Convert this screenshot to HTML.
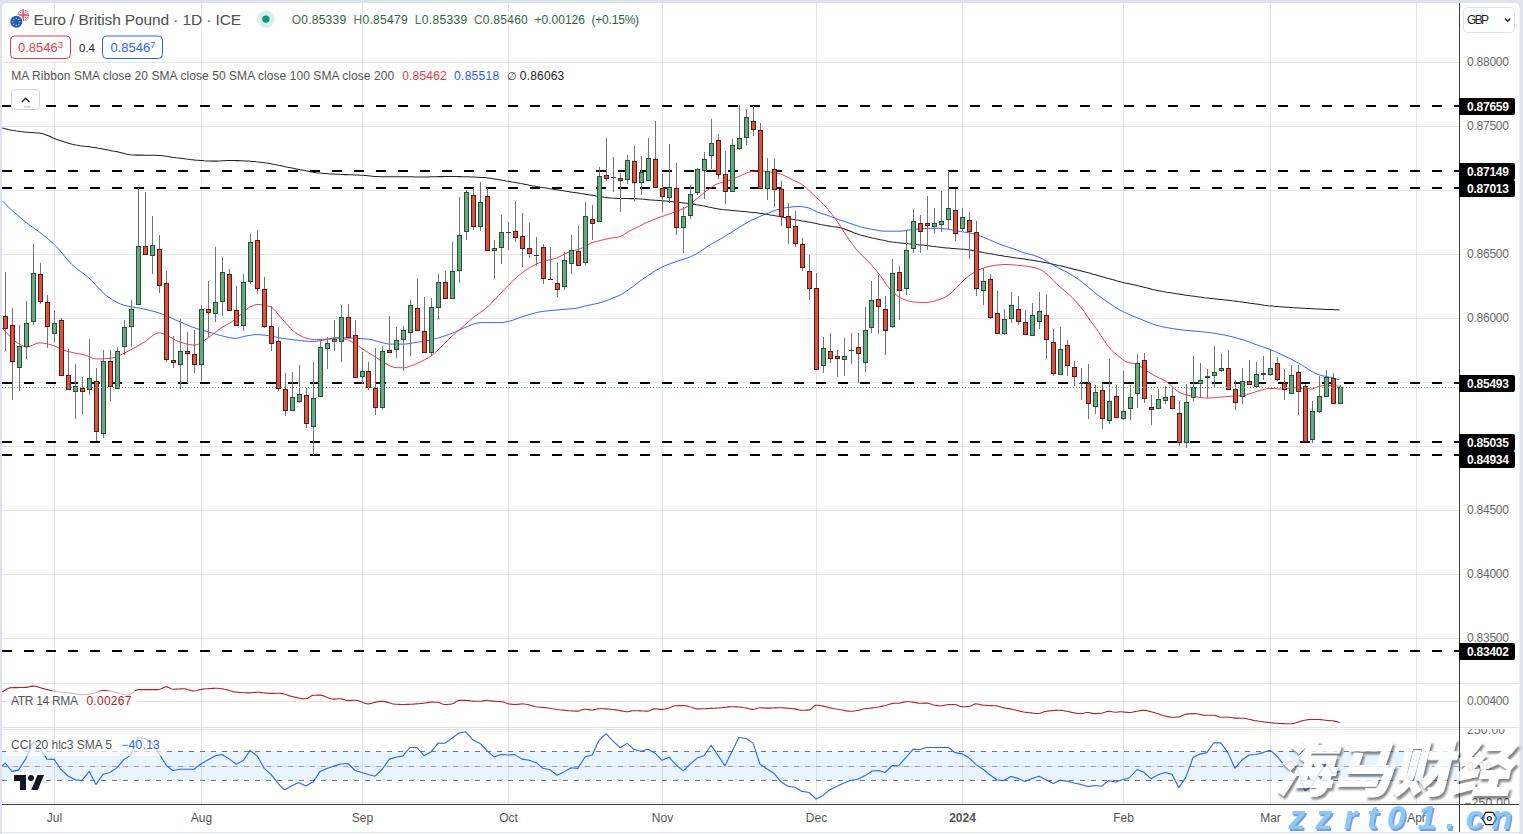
<!DOCTYPE html>
<html lang="en"><head><meta charset="utf-8"><title>EUR/GBP chart</title>
<style>html,body{margin:0;padding:0;background:#e0e3eb;}body{width:1523px;height:834px;overflow:hidden;position:relative;}svg text{white-space:pre;}</style></head>
<body>
<svg width="1523" height="834" viewBox="0 0 1523 834" style="position:absolute;left:0;top:0;display:block">
<rect x="0" y="0" width="1523" height="834" fill="#e0e3eb"/>
<path d="M2 832 V8 a5 5 0 0 1 5 -5 H1514.5 a5 5 0 0 1 5 5 V832 Z" fill="#ffffff"/>
<rect x="2" y="833" width="1517" height="1" fill="#ffffff" shape-rendering="crispEdges"/>
<g shape-rendering="crispEdges">
<rect x="54" y="3" width="1" height="680" fill="#e4e4e4"/>
<rect x="54" y="684" width="1" height="120" fill="#e4e4e4"/>
<rect x="201" y="3" width="1" height="680" fill="#e4e4e4"/>
<rect x="201" y="684" width="1" height="120" fill="#e4e4e4"/>
<rect x="362" y="3" width="1" height="680" fill="#e4e4e4"/>
<rect x="362" y="684" width="1" height="120" fill="#e4e4e4"/>
<rect x="508" y="3" width="1" height="680" fill="#e4e4e4"/>
<rect x="508" y="684" width="1" height="120" fill="#e4e4e4"/>
<rect x="662" y="3" width="1" height="680" fill="#e4e4e4"/>
<rect x="662" y="684" width="1" height="120" fill="#e4e4e4"/>
<rect x="816" y="3" width="1" height="680" fill="#e4e4e4"/>
<rect x="816" y="684" width="1" height="120" fill="#e4e4e4"/>
<rect x="962" y="3" width="1" height="680" fill="#e4e4e4"/>
<rect x="962" y="684" width="1" height="120" fill="#e4e4e4"/>
<rect x="1123" y="3" width="1" height="680" fill="#e4e4e4"/>
<rect x="1123" y="684" width="1" height="120" fill="#e4e4e4"/>
<rect x="1270" y="3" width="1" height="680" fill="#e4e4e4"/>
<rect x="1270" y="684" width="1" height="120" fill="#e4e4e4"/>
<rect x="1416" y="3" width="1" height="680" fill="#e4e4e4"/>
<rect x="1416" y="684" width="1" height="120" fill="#e4e4e4"/>
<rect x="2" y="62" width="1457" height="1" fill="#e4e4e4"/>
<rect x="2" y="126" width="1457" height="1" fill="#e4e4e4"/>
<rect x="2" y="190" width="1457" height="1" fill="#e4e4e4"/>
<rect x="2" y="254" width="1457" height="1" fill="#e4e4e4"/>
<rect x="2" y="318" width="1457" height="1" fill="#e4e4e4"/>
<rect x="2" y="382" width="1457" height="1" fill="#e4e4e4"/>
<rect x="2" y="446" width="1457" height="1" fill="#e4e4e4"/>
<rect x="2" y="510" width="1457" height="1" fill="#e4e4e4"/>
<rect x="2" y="574" width="1457" height="1" fill="#e4e4e4"/>
<rect x="2" y="638" width="1457" height="1" fill="#e4e4e4"/>
<rect x="2" y="683" width="1517" height="1" fill="#e0e3eb"/>
<rect x="2" y="701" width="1457" height="1" fill="#e4e4e4"/>
<rect x="2" y="727" width="1517" height="1" fill="#e0e3eb"/>
<rect x="2" y="729" width="1457" height="1" fill="#e4e4e4"/>
<rect x="2" y="751" width="1457" height="29.4" fill="#e8f4fe" shape-rendering="geometricPrecision"/>
<rect x="2" y="766" width="1457" height="1" fill="#dcdfe4"/>
<rect x="2" y="802" width="1457" height="1" fill="#e4e4e4"/>
<rect x="54" y="751" width="1" height="29" fill="#d6dce3"/>
<rect x="201" y="751" width="1" height="29" fill="#d6dce3"/>
<rect x="362" y="751" width="1" height="29" fill="#d6dce3"/>
<rect x="508" y="751" width="1" height="29" fill="#d6dce3"/>
<rect x="662" y="751" width="1" height="29" fill="#d6dce3"/>
<rect x="816" y="751" width="1" height="29" fill="#d6dce3"/>
<rect x="962" y="751" width="1" height="29" fill="#d6dce3"/>
<rect x="1123" y="751" width="1" height="29" fill="#d6dce3"/>
<rect x="1270" y="751" width="1" height="29" fill="#d6dce3"/>
<rect x="1416" y="751" width="1" height="29" fill="#d6dce3"/>
</g>
<line x1="2" y1="751.5" x2="1459" y2="751.5" stroke="#74777f" stroke-width="1" stroke-dasharray="5 6" shape-rendering="crispEdges"/>
<line x1="2" y1="766.5" x2="1459" y2="766.5" stroke="#9a9da6" stroke-width="1" stroke-dasharray="5 6" shape-rendering="crispEdges"/>
<line x1="2" y1="780.5" x2="1459" y2="780.5" stroke="#74777f" stroke-width="1" stroke-dasharray="5 6" shape-rendering="crispEdges"/>
<line x1="2" y1="106" x2="1459" y2="106" stroke="#000" stroke-width="2" stroke-dasharray="10 12" shape-rendering="crispEdges"/>
<line x1="2" y1="171" x2="1459" y2="171" stroke="#000" stroke-width="2" stroke-dasharray="10 12" shape-rendering="crispEdges"/>
<line x1="2" y1="188" x2="1459" y2="188" stroke="#000" stroke-width="2" stroke-dasharray="10 12" shape-rendering="crispEdges"/>
<line x1="2" y1="383" x2="1459" y2="383" stroke="#000" stroke-width="2" stroke-dasharray="10 12" shape-rendering="crispEdges"/>
<line x1="2" y1="442" x2="1459" y2="442" stroke="#000" stroke-width="2" stroke-dasharray="10 12" shape-rendering="crispEdges"/>
<line x1="2" y1="455" x2="1459" y2="455" stroke="#000" stroke-width="2" stroke-dasharray="10 12" shape-rendering="crispEdges"/>
<line x1="2" y1="651" x2="1459" y2="651" stroke="#000" stroke-width="2" stroke-dasharray="10 12" shape-rendering="crispEdges"/>
<path d="M2.3 128.1 L4.3 128.6 L6.3 129.0 L8.3 129.5 L10.3 129.9 L12.3 130.3 L14.3 130.6 L16.3 131.0 L18.3 131.3 L20.3 131.6 L22.3 131.8 L24.3 132.0 L26.3 132.2 L28.3 132.3 L30.3 132.5 L32.3 132.6 L34.3 132.7 L36.3 132.9 L38.3 133.0 L40.3 133.3 L42.3 133.6 L44.3 134.2 L46.3 134.9 L48.3 135.7 L50.3 136.6 L52.3 137.5 L54.3 138.4 L56.3 139.2 L58.3 139.9 L60.3 140.5 L62.3 141.2 L64.3 141.9 L66.3 142.6 L68.3 143.2 L70.3 143.8 L72.3 144.3 L74.3 144.7 L76.3 145.1 L78.3 145.4 L80.3 145.7 L82.3 145.9 L84.3 146.2 L86.3 146.4 L88.3 146.6 L90.3 146.9 L92.3 147.2 L94.3 147.5 L96.3 147.8 L98.3 148.2 L100.3 148.5 L102.3 148.9 L104.3 149.3 L106.3 149.7 L108.3 150.1 L110.3 150.5 L112.3 150.9 L114.3 151.2 L116.3 151.6 L118.3 152.1 L120.3 152.6 L122.3 153.1 L124.3 153.6 L126.3 154.1 L128.3 154.5 L130.3 154.8 L132.3 155.0 L134.3 155.0 L136.3 155.1 L138.3 155.1 L140.3 155.1 L142.3 155.1 L144.3 155.2 L146.3 155.2 L148.3 155.2 L150.3 155.2 L152.3 155.2 L154.3 155.3 L156.3 155.3 L158.3 155.4 L160.3 155.6 L162.3 155.8 L164.3 156.0 L166.3 156.3 L168.3 156.6 L170.3 156.9 L172.3 157.2 L174.3 157.4 L176.3 157.7 L178.3 157.9 L180.3 158.2 L182.3 158.5 L184.3 158.8 L186.3 159.1 L188.3 159.3 L190.3 159.6 L192.3 159.8 L194.3 160.0 L196.3 160.2 L198.3 160.3 L200.3 160.5 L202.3 160.6 L204.3 160.8 L206.3 160.9 L208.3 161.0 L210.3 161.0 L212.3 161.1 L214.3 161.1 L216.3 161.1 L218.3 161.0 L220.3 160.9 L222.3 160.8 L224.3 160.7 L226.3 160.6 L228.3 160.5 L230.3 160.5 L232.3 160.5 L234.3 160.5 L236.3 160.6 L238.3 160.6 L240.3 160.7 L242.3 160.8 L244.3 160.9 L246.3 161.0 L248.3 161.1 L250.3 161.2 L252.3 161.4 L254.3 161.5 L256.3 161.8 L258.3 162.0 L260.3 162.2 L262.3 162.5 L264.3 162.8 L266.3 163.1 L268.3 163.3 L270.3 163.6 L272.3 164.0 L274.3 164.4 L276.3 164.7 L278.3 165.2 L280.3 165.6 L282.3 166.0 L284.3 166.4 L286.3 166.9 L288.3 167.3 L290.3 167.7 L292.3 168.1 L294.3 168.5 L296.3 168.9 L298.3 169.3 L300.3 169.7 L302.3 170.1 L304.3 170.5 L306.3 170.9 L308.3 171.3 L310.3 171.7 L312.3 172.1 L314.3 172.4 L316.3 172.7 L318.3 172.9 L320.3 173.1 L322.3 173.3 L324.3 173.5 L326.3 173.6 L328.3 173.7 L330.3 173.9 L332.3 174.0 L334.3 174.1 L336.3 174.2 L338.3 174.3 L340.3 174.4 L342.3 174.5 L344.3 174.6 L346.3 174.6 L348.3 174.7 L350.3 174.8 L352.3 174.8 L354.3 174.9 L356.3 175.0 L358.3 175.1 L360.3 175.2 L362.3 175.3 L364.3 175.4 L366.3 175.6 L368.3 175.8 L370.3 176.0 L372.3 176.2 L374.3 176.4 L376.3 176.5 L378.3 176.6 L380.3 176.7 L382.3 176.7 L384.3 176.7 L386.3 176.7 L388.3 176.7 L390.3 176.7 L392.3 176.7 L394.3 176.7 L396.3 176.7 L398.3 176.7 L400.3 176.7 L402.3 176.7 L404.3 176.7 L406.3 176.7 L408.3 176.7 L410.3 176.8 L412.3 176.8 L414.3 176.9 L416.3 176.9 L418.3 177.0 L420.3 177.0 L422.3 177.0 L424.3 177.0 L426.3 176.9 L428.3 176.9 L430.3 176.8 L432.3 176.8 L434.3 176.7 L436.3 176.7 L438.3 176.6 L440.3 176.6 L442.3 176.6 L444.3 176.5 L446.3 176.5 L448.3 176.5 L450.3 176.5 L452.3 176.5 L454.3 176.5 L456.3 176.5 L458.3 176.6 L460.3 176.6 L462.3 176.7 L464.3 176.7 L466.3 176.8 L468.3 176.8 L470.3 176.9 L472.3 177.0 L474.3 177.1 L476.3 177.2 L478.3 177.3 L480.3 177.4 L482.3 177.5 L484.3 177.6 L486.3 177.8 L488.3 178.0 L490.3 178.3 L492.3 178.6 L494.3 178.9 L496.3 179.2 L498.3 179.6 L500.3 179.9 L502.3 180.3 L504.3 180.6 L506.3 181.0 L508.3 181.3 L510.3 181.6 L512.3 182.0 L514.3 182.3 L516.3 182.7 L518.3 183.1 L520.3 183.5 L522.3 183.8 L524.3 184.2 L526.3 184.6 L528.3 185.0 L530.3 185.4 L532.3 185.8 L534.3 186.1 L536.3 186.5 L538.3 186.8 L540.3 187.2 L542.3 187.5 L544.3 187.8 L546.3 188.1 L548.3 188.5 L550.3 188.8 L552.3 189.1 L554.3 189.4 L556.3 189.7 L558.3 190.0 L560.3 190.3 L562.3 190.6 L564.3 190.9 L566.3 191.3 L568.3 191.6 L570.3 191.9 L572.3 192.2 L574.3 192.5 L576.3 192.8 L578.3 193.1 L580.3 193.5 L582.3 193.8 L584.3 194.1 L586.3 194.4 L588.3 194.7 L590.3 195.0 L592.3 195.3 L594.3 195.6 L596.3 196.0 L598.3 196.3 L600.3 196.7 L602.3 197.0 L604.3 197.3 L606.3 197.5 L608.3 197.7 L610.3 197.9 L612.3 198.1 L614.3 198.2 L616.3 198.3 L618.3 198.4 L620.3 198.5 L622.3 198.5 L624.3 198.5 L626.3 198.5 L628.3 198.5 L630.3 198.6 L632.3 198.6 L634.3 198.6 L636.3 198.6 L638.3 198.8 L640.3 198.9 L642.3 199.1 L644.3 199.3 L646.3 199.5 L648.3 199.7 L650.3 199.9 L652.3 200.0 L654.3 200.2 L656.3 200.3 L658.3 200.5 L660.3 200.6 L662.3 200.8 L664.3 201.0 L666.3 201.1 L668.3 201.3 L670.3 201.5 L672.3 201.7 L674.3 201.9 L676.3 202.1 L678.3 202.3 L680.3 202.5 L682.3 202.7 L684.3 202.9 L686.3 203.2 L688.3 203.5 L690.3 203.7 L692.3 204.0 L694.3 204.3 L696.3 204.7 L698.3 205.0 L700.3 205.3 L702.3 205.7 L704.3 206.0 L706.3 206.4 L708.3 206.9 L710.3 207.3 L712.3 207.8 L714.3 208.2 L716.3 208.6 L718.3 208.9 L720.3 209.2 L722.3 209.5 L724.3 209.7 L726.3 209.9 L728.3 210.1 L730.3 210.3 L732.3 210.5 L734.3 210.7 L736.3 210.8 L738.3 211.0 L740.3 211.2 L742.3 211.4 L744.3 211.6 L746.3 211.8 L748.3 212.0 L750.3 212.2 L752.3 212.4 L754.3 212.6 L756.3 212.8 L758.3 213.1 L760.3 213.4 L762.3 213.6 L764.3 213.9 L766.3 214.2 L768.3 214.6 L770.3 214.9 L772.3 215.2 L774.3 215.6 L776.3 215.9 L778.3 216.3 L780.3 216.7 L782.3 217.1 L784.3 217.5 L786.3 218.0 L788.3 218.4 L790.3 218.8 L792.3 219.2 L794.3 219.5 L796.3 219.9 L798.3 220.2 L800.3 220.5 L802.3 220.9 L804.3 221.2 L806.3 221.5 L808.3 221.9 L810.3 222.3 L812.3 222.7 L814.3 223.1 L816.3 223.5 L818.3 223.9 L820.3 224.4 L822.3 224.8 L824.3 225.2 L826.3 225.6 L828.3 225.9 L830.3 226.2 L832.3 226.5 L834.3 226.7 L836.3 227.0 L838.3 227.3 L840.3 227.7 L842.3 228.2 L844.3 228.9 L846.3 229.7 L848.3 230.5 L850.3 231.3 L852.3 232.1 L854.3 232.9 L856.3 233.6 L858.3 234.3 L860.3 234.9 L862.3 235.4 L864.3 236.0 L866.3 236.5 L868.3 237.0 L870.3 237.4 L872.3 237.9 L874.3 238.3 L876.3 238.8 L878.3 239.2 L880.3 239.7 L882.3 240.1 L884.3 240.6 L886.3 241.0 L888.3 241.4 L890.3 241.7 L892.3 242.1 L894.3 242.3 L896.3 242.6 L898.3 242.8 L900.3 243.0 L902.3 243.2 L904.3 243.4 L906.3 243.6 L908.3 243.8 L910.3 243.9 L912.3 244.1 L914.3 244.3 L916.3 244.5 L918.3 244.7 L920.3 244.9 L922.3 245.1 L924.3 245.3 L926.3 245.5 L928.3 245.7 L930.3 245.9 L932.3 246.2 L934.3 246.4 L936.3 246.7 L938.3 246.9 L940.3 247.2 L942.3 247.5 L944.3 247.7 L946.3 247.9 L948.3 248.1 L950.3 248.3 L952.3 248.5 L954.3 248.6 L956.3 248.7 L958.3 248.9 L960.3 249.0 L962.3 249.2 L964.3 249.3 L966.3 249.5 L968.3 249.8 L970.3 250.1 L972.3 250.4 L974.3 250.8 L976.3 251.1 L978.3 251.5 L980.3 251.9 L982.3 252.3 L984.3 252.7 L986.3 253.0 L988.3 253.4 L990.3 253.7 L992.3 254.1 L994.3 254.5 L996.3 254.8 L998.3 255.2 L1000.3 255.5 L1002.3 255.8 L1004.3 256.2 L1006.3 256.5 L1008.3 256.8 L1010.3 257.1 L1012.3 257.4 L1014.3 257.7 L1016.3 258.0 L1018.3 258.2 L1020.3 258.5 L1022.3 258.8 L1024.3 259.1 L1026.3 259.4 L1028.3 259.7 L1030.3 260.0 L1032.3 260.3 L1034.3 260.6 L1036.3 260.9 L1038.3 261.3 L1040.3 261.6 L1042.3 262.0 L1044.3 262.4 L1046.3 262.8 L1048.3 263.2 L1050.3 263.6 L1052.3 264.1 L1054.3 264.5 L1056.3 264.9 L1058.3 265.4 L1060.3 265.8 L1062.3 266.3 L1064.3 266.8 L1066.3 267.2 L1068.3 267.7 L1070.3 268.2 L1072.3 268.7 L1074.3 269.2 L1076.3 269.7 L1078.3 270.2 L1080.3 270.7 L1082.3 271.2 L1084.3 271.7 L1086.3 272.2 L1088.3 272.8 L1090.3 273.3 L1092.3 273.9 L1094.3 274.4 L1096.3 275.0 L1098.3 275.6 L1100.3 276.2 L1102.3 276.8 L1104.3 277.3 L1106.3 277.9 L1108.3 278.5 L1110.3 279.0 L1112.3 279.6 L1114.3 280.1 L1116.3 280.7 L1118.3 281.2 L1120.3 281.8 L1122.3 282.3 L1124.3 282.8 L1126.3 283.2 L1128.3 283.6 L1130.3 284.1 L1132.3 284.5 L1134.3 284.9 L1136.3 285.3 L1138.3 285.8 L1140.3 286.2 L1142.3 286.7 L1144.3 287.2 L1146.3 287.8 L1148.3 288.3 L1150.3 288.8 L1152.3 289.4 L1154.3 289.8 L1156.3 290.3 L1158.3 290.7 L1160.3 291.1 L1162.3 291.5 L1164.3 291.8 L1166.3 292.2 L1168.3 292.5 L1170.3 292.8 L1172.3 293.1 L1174.3 293.4 L1176.3 293.7 L1178.3 294.0 L1180.3 294.3 L1182.3 294.6 L1184.3 294.9 L1186.3 295.2 L1188.3 295.5 L1190.3 295.8 L1192.3 296.0 L1194.3 296.3 L1196.3 296.6 L1198.3 296.9 L1200.3 297.1 L1202.3 297.4 L1204.3 297.7 L1206.3 297.9 L1208.3 298.1 L1210.3 298.4 L1212.3 298.6 L1214.3 298.8 L1216.3 299.0 L1218.3 299.2 L1220.3 299.4 L1222.3 299.6 L1224.3 299.9 L1226.3 300.1 L1228.3 300.3 L1230.3 300.5 L1232.3 300.8 L1234.3 301.0 L1236.3 301.3 L1238.3 301.6 L1240.3 301.8 L1242.3 302.1 L1244.3 302.4 L1246.3 302.6 L1248.3 302.9 L1250.3 303.2 L1252.3 303.4 L1254.3 303.7 L1256.3 304.0 L1258.3 304.3 L1260.3 304.6 L1262.3 304.9 L1264.3 305.2 L1266.3 305.4 L1268.3 305.7 L1270.3 305.9 L1272.3 306.1 L1274.3 306.3 L1276.3 306.4 L1278.3 306.6 L1280.3 306.7 L1282.3 306.9 L1284.3 307.0 L1286.3 307.2 L1288.3 307.3 L1290.3 307.4 L1292.3 307.6 L1294.3 307.7 L1296.3 307.8 L1298.3 308.0 L1300.3 308.1 L1302.3 308.2 L1304.3 308.3 L1306.3 308.4 L1308.3 308.5 L1310.3 308.6 L1312.3 308.7 L1314.3 308.8 L1316.3 308.9 L1318.3 309.0 L1320.3 309.1 L1322.3 309.2 L1324.3 309.3 L1326.3 309.4 L1328.3 309.5 L1330.3 309.5 L1332.3 309.6 L1334.3 309.7 L1336.3 309.8 L1338.3 309.9 L1339.7 309.9" fill="none" stroke="#222" stroke-width="1.05"/>
<path d="M2.2 200.7 L4.2 202.7 L6.2 204.8 L8.2 206.7 L10.2 208.6 L12.2 210.5 L14.2 212.4 L16.2 214.1 L18.2 215.9 L20.2 217.6 L22.2 219.3 L24.2 221.0 L26.2 222.6 L28.2 224.1 L30.2 225.6 L32.2 227.0 L34.2 228.3 L36.2 229.7 L38.2 231.1 L40.2 232.7 L42.2 234.2 L44.2 235.8 L46.2 237.4 L48.2 239.1 L50.2 240.8 L52.2 242.6 L54.2 244.4 L56.2 246.4 L58.2 248.6 L60.2 250.9 L62.2 253.4 L64.2 255.8 L66.2 258.2 L68.2 260.5 L70.2 262.7 L72.2 264.7 L74.2 266.5 L76.2 268.1 L78.2 269.7 L80.2 271.2 L82.2 272.7 L84.2 274.2 L86.2 275.7 L88.2 277.4 L90.2 279.1 L92.2 281.0 L94.2 283.1 L96.2 285.3 L98.2 287.5 L100.2 289.7 L102.2 291.8 L104.2 293.8 L106.2 295.6 L108.2 297.0 L110.2 298.3 L112.2 299.6 L114.2 300.8 L116.2 301.9 L118.2 303.0 L120.2 303.9 L122.2 304.7 L124.2 305.4 L126.2 305.9 L128.2 306.4 L130.2 306.7 L132.2 307.0 L134.2 307.3 L136.2 307.6 L138.2 307.9 L140.2 308.3 L142.2 308.7 L144.2 309.2 L146.2 309.6 L148.2 310.0 L150.2 310.5 L152.2 311.0 L154.2 311.5 L156.2 312.1 L158.2 312.7 L160.2 313.3 L162.2 314.0 L164.2 314.8 L166.2 315.7 L168.2 316.6 L170.2 317.5 L172.2 318.4 L174.2 319.3 L176.2 320.3 L178.2 321.1 L180.2 322.0 L182.2 322.8 L184.2 323.7 L186.2 324.5 L188.2 325.4 L190.2 326.2 L192.2 327.0 L194.2 327.7 L196.2 328.4 L198.2 329.1 L200.2 329.7 L202.2 330.2 L204.2 330.8 L206.2 331.3 L208.2 331.9 L210.2 332.5 L212.2 333.1 L214.2 333.7 L216.2 334.3 L218.2 334.9 L220.2 335.4 L222.2 335.9 L224.2 336.4 L226.2 336.9 L228.2 337.3 L230.2 337.8 L232.2 338.1 L234.2 338.3 L236.2 338.3 L238.2 338.0 L240.2 337.5 L242.2 336.9 L244.2 336.4 L246.2 336.0 L248.2 335.6 L250.2 335.3 L252.2 335.0 L254.2 334.7 L256.2 334.6 L258.2 334.6 L260.2 334.7 L262.2 334.9 L264.2 335.2 L266.2 335.4 L268.2 335.7 L270.2 336.0 L272.2 336.3 L274.2 336.7 L276.2 337.1 L278.2 337.5 L280.2 337.9 L282.2 338.2 L284.2 338.5 L286.2 338.8 L288.2 339.1 L290.2 339.4 L292.2 339.6 L294.2 339.9 L296.2 340.1 L298.2 340.3 L300.2 340.5 L302.2 340.7 L304.2 340.9 L306.2 341.1 L308.2 341.3 L310.2 341.4 L312.2 341.4 L314.2 341.4 L316.2 341.2 L318.2 341.0 L320.2 340.7 L322.2 340.3 L324.2 340.0 L326.2 339.7 L328.2 339.4 L330.2 339.1 L332.2 338.7 L334.2 338.3 L336.2 338.0 L338.2 337.8 L340.2 337.8 L342.2 337.8 L344.2 337.9 L346.2 337.9 L348.2 338.0 L350.2 338.1 L352.2 338.2 L354.2 338.3 L356.2 338.4 L358.2 338.5 L360.2 338.6 L362.2 338.7 L364.2 338.8 L366.2 339.0 L368.2 339.2 L370.2 339.5 L372.2 339.9 L374.2 340.4 L376.2 341.0 L378.2 341.6 L380.2 342.1 L382.2 342.6 L384.2 343.1 L386.2 343.6 L388.2 344.0 L390.2 344.1 L392.2 344.1 L394.2 344.1 L396.2 344.1 L398.2 344.1 L400.2 344.1 L402.2 344.1 L404.2 344.1 L406.2 344.0 L408.2 343.7 L410.2 343.4 L412.2 343.1 L414.2 342.7 L416.2 342.4 L418.2 342.1 L420.2 341.8 L422.2 341.5 L424.2 341.1 L426.2 340.8 L428.2 340.4 L430.2 340.0 L432.2 339.5 L434.2 339.0 L436.2 338.5 L438.2 337.9 L440.2 337.4 L442.2 336.7 L444.2 336.1 L446.2 335.4 L448.2 334.7 L450.2 333.9 L452.2 333.2 L454.2 332.4 L456.2 331.5 L458.2 330.6 L460.2 329.6 L462.2 328.7 L464.2 327.8 L466.2 327.0 L468.2 326.3 L470.2 325.4 L472.2 324.6 L474.2 323.8 L476.2 323.2 L478.2 322.8 L480.2 322.6 L482.2 322.6 L484.2 322.6 L486.2 322.6 L488.2 322.6 L490.2 322.6 L492.2 322.6 L494.2 322.6 L496.2 322.6 L498.2 322.6 L500.2 322.6 L502.2 322.6 L504.2 322.3 L506.2 321.9 L508.2 321.4 L510.2 321.0 L512.2 320.4 L514.2 319.7 L516.2 319.0 L518.2 318.2 L520.2 317.4 L522.2 316.7 L524.2 316.0 L526.2 315.4 L528.2 314.9 L530.2 314.3 L532.2 313.7 L534.2 313.2 L536.2 312.7 L538.2 312.2 L540.2 311.8 L542.2 311.5 L544.2 311.2 L546.2 311.0 L548.2 310.8 L550.2 310.6 L552.2 310.4 L554.2 310.2 L556.2 310.1 L558.2 309.9 L560.2 309.7 L562.2 309.5 L564.2 309.4 L566.2 309.2 L568.2 309.1 L570.2 308.9 L572.2 308.7 L574.2 308.5 L576.2 308.2 L578.2 307.9 L580.2 307.4 L582.2 306.9 L584.2 306.3 L586.2 305.8 L588.2 305.3 L590.2 304.9 L592.2 304.5 L594.2 304.1 L596.2 303.7 L598.2 303.3 L600.2 302.7 L602.2 302.1 L604.2 301.4 L606.2 300.7 L608.2 299.9 L610.2 299.1 L612.2 298.3 L614.2 297.5 L616.2 296.7 L618.2 295.9 L620.2 295.0 L622.2 294.0 L624.2 292.7 L626.2 291.3 L628.2 289.9 L630.2 288.4 L632.2 287.0 L634.2 285.5 L636.2 284.0 L638.2 282.5 L640.2 281.0 L642.2 279.6 L644.2 278.2 L646.2 276.8 L648.2 275.4 L650.2 274.1 L652.2 272.8 L654.2 271.6 L656.2 270.3 L658.2 269.1 L660.2 268.0 L662.2 267.0 L664.2 266.1 L666.2 265.2 L668.2 264.5 L670.2 263.7 L672.2 263.0 L674.2 262.3 L676.2 261.6 L678.2 260.9 L680.2 260.3 L682.2 259.7 L684.2 259.1 L686.2 258.4 L688.2 257.7 L690.2 256.8 L692.2 255.9 L694.2 254.9 L696.2 253.9 L698.2 252.7 L700.2 251.5 L702.2 250.1 L704.2 248.7 L706.2 247.3 L708.2 246.0 L710.2 244.8 L712.2 243.6 L714.2 242.5 L716.2 241.3 L718.2 240.2 L720.2 239.1 L722.2 238.0 L724.2 236.8 L726.2 235.6 L728.2 234.3 L730.2 233.1 L732.2 231.9 L734.2 230.6 L736.2 229.3 L738.2 228.0 L740.2 226.7 L742.2 225.5 L744.2 224.3 L746.2 223.1 L748.2 222.0 L750.2 220.9 L752.2 219.9 L754.2 219.0 L756.2 218.1 L758.2 217.2 L760.2 216.3 L762.2 215.5 L764.2 214.7 L766.2 213.9 L768.2 213.1 L770.2 212.3 L772.2 211.4 L774.2 210.7 L776.2 210.0 L778.2 209.4 L780.2 208.9 L782.2 208.5 L784.2 208.0 L786.2 207.7 L788.2 207.4 L790.2 207.2 L792.2 206.9 L794.2 206.7 L796.2 206.6 L798.2 206.5 L800.2 206.5 L802.2 206.7 L804.2 207.0 L806.2 207.4 L808.2 207.8 L810.2 208.5 L812.2 209.5 L814.2 210.5 L816.2 211.5 L818.2 212.3 L820.2 213.0 L822.2 213.7 L824.2 214.3 L826.2 214.9 L828.2 215.6 L830.2 216.3 L832.2 217.1 L834.2 217.8 L836.2 218.6 L838.2 219.3 L840.2 220.0 L842.2 220.7 L844.2 221.4 L846.2 222.1 L848.2 222.8 L850.2 223.4 L852.2 224.1 L854.2 224.8 L856.2 225.5 L858.2 226.1 L860.2 226.7 L862.2 227.3 L864.2 227.7 L866.2 228.2 L868.2 228.6 L870.2 229.0 L872.2 229.4 L874.2 229.7 L876.2 230.1 L878.2 230.5 L880.2 230.8 L882.2 231.1 L884.2 231.2 L886.2 231.2 L888.2 231.2 L890.2 231.2 L892.2 231.2 L894.2 231.2 L896.2 231.2 L898.2 231.2 L900.2 231.2 L902.2 231.1 L904.2 230.8 L906.2 230.5 L908.2 230.2 L910.2 229.9 L912.2 229.7 L914.2 229.5 L916.2 229.2 L918.2 229.0 L920.2 228.8 L922.2 228.6 L924.2 228.5 L926.2 228.5 L928.2 228.4 L930.2 228.4 L932.2 228.3 L934.2 228.3 L936.2 228.3 L938.2 228.3 L940.2 228.4 L942.2 228.6 L944.2 228.8 L946.2 229.0 L948.2 229.2 L950.2 229.5 L952.2 229.9 L954.2 230.3 L956.2 230.7 L958.2 231.1 L960.2 231.5 L962.2 231.8 L964.2 232.1 L966.2 232.4 L968.2 232.7 L970.2 233.1 L972.2 233.6 L974.2 234.1 L976.2 234.7 L978.2 235.3 L980.2 236.0 L982.2 236.7 L984.2 237.5 L986.2 238.4 L988.2 239.3 L990.2 240.2 L992.2 241.0 L994.2 241.9 L996.2 242.7 L998.2 243.5 L1000.2 244.4 L1002.2 245.1 L1004.2 245.8 L1006.2 246.5 L1008.2 247.1 L1010.2 247.8 L1012.2 248.4 L1014.2 249.1 L1016.2 249.9 L1018.2 250.7 L1020.2 251.5 L1022.2 252.2 L1024.2 252.8 L1026.2 253.4 L1028.2 253.9 L1030.2 254.4 L1032.2 254.9 L1034.2 255.5 L1036.2 256.2 L1038.2 257.0 L1040.2 257.9 L1042.2 258.8 L1044.2 259.8 L1046.2 261.0 L1048.2 262.1 L1050.2 263.4 L1052.2 264.5 L1054.2 265.7 L1056.2 266.7 L1058.2 267.8 L1060.2 268.8 L1062.2 269.9 L1064.2 270.9 L1066.2 271.9 L1068.2 273.0 L1070.2 274.1 L1072.2 275.3 L1074.2 276.5 L1076.2 277.8 L1078.2 279.1 L1080.2 280.6 L1082.2 282.1 L1084.2 283.8 L1086.2 285.4 L1088.2 287.1 L1090.2 288.8 L1092.2 290.5 L1094.2 292.1 L1096.2 293.8 L1098.2 295.3 L1100.2 296.9 L1102.2 298.3 L1104.2 299.7 L1106.2 301.1 L1108.2 302.5 L1110.2 303.9 L1112.2 305.2 L1114.2 306.5 L1116.2 307.8 L1118.2 309.0 L1120.2 310.2 L1122.2 311.2 L1124.2 312.2 L1126.2 313.2 L1128.2 314.1 L1130.2 314.9 L1132.2 315.8 L1134.2 316.6 L1136.2 317.4 L1138.2 318.2 L1140.2 319.0 L1142.2 319.8 L1144.2 320.6 L1146.2 321.5 L1148.2 322.3 L1150.2 323.1 L1152.2 323.8 L1154.2 324.5 L1156.2 325.2 L1158.2 325.7 L1160.2 326.2 L1162.2 326.6 L1164.2 327.1 L1166.2 327.5 L1168.2 327.8 L1170.2 328.2 L1172.2 328.5 L1174.2 328.9 L1176.2 329.2 L1178.2 329.4 L1180.2 329.7 L1182.2 329.9 L1184.2 330.2 L1186.2 330.4 L1188.2 330.5 L1190.2 330.7 L1192.2 330.9 L1194.2 331.1 L1196.2 331.3 L1198.2 331.4 L1200.2 331.6 L1202.2 331.8 L1204.2 332.0 L1206.2 332.2 L1208.2 332.4 L1210.2 332.7 L1212.2 333.0 L1214.2 333.3 L1216.2 333.6 L1218.2 333.9 L1220.2 334.3 L1222.2 334.6 L1224.2 335.0 L1226.2 335.4 L1228.2 335.9 L1230.2 336.3 L1232.2 336.8 L1234.2 337.3 L1236.2 337.9 L1238.2 338.4 L1240.2 339.0 L1242.2 339.6 L1244.2 340.2 L1246.2 340.9 L1248.2 341.6 L1250.2 342.4 L1252.2 343.2 L1254.2 343.9 L1256.2 344.7 L1258.2 345.4 L1260.2 346.0 L1262.2 346.7 L1264.2 347.3 L1266.2 348.0 L1268.2 348.7 L1270.2 349.4 L1272.2 350.3 L1274.2 351.2 L1276.2 352.1 L1278.2 353.1 L1280.2 354.1 L1282.2 355.0 L1284.2 355.9 L1286.2 356.8 L1288.2 357.7 L1290.2 358.6 L1292.2 359.6 L1294.2 360.7 L1296.2 361.8 L1298.2 363.0 L1300.2 364.1 L1302.2 365.4 L1304.2 366.6 L1306.2 367.9 L1308.2 369.2 L1310.2 370.5 L1312.2 371.6 L1314.2 372.7 L1316.2 373.6 L1318.2 374.5 L1320.2 375.2 L1322.2 375.7 L1324.2 376.1 L1326.2 376.5 L1328.2 376.9 L1330.2 377.3 L1332.2 377.8 L1334.2 378.4 L1336.2 378.9 L1338.2 379.5 L1339.5 379.9" fill="none" stroke="#2962ff" stroke-width="1"/>
<path d="M2.2 328.0 L4.2 330.2 L6.2 332.4 L8.2 334.5 L10.2 336.4 L12.2 338.4 L14.2 340.3 L16.2 342.0 L18.2 343.4 L20.2 344.6 L22.2 345.7 L24.2 346.5 L26.2 346.9 L28.2 346.7 L30.2 346.1 L32.2 345.3 L34.2 344.4 L36.2 343.6 L38.2 343.0 L40.2 342.9 L42.2 343.0 L44.2 343.3 L46.2 343.7 L48.2 344.1 L50.2 344.6 L52.2 345.1 L54.2 345.8 L56.2 346.7 L58.2 347.7 L60.2 348.7 L62.2 349.6 L64.2 350.3 L66.2 350.9 L68.2 351.4 L70.2 352.0 L72.2 352.4 L74.2 352.9 L76.2 353.4 L78.2 353.7 L80.2 354.1 L82.2 354.5 L84.2 354.9 L86.2 355.5 L88.2 356.3 L90.2 357.2 L92.2 358.0 L94.2 358.6 L96.2 358.9 L98.2 358.9 L100.2 358.9 L102.2 358.8 L104.2 358.7 L106.2 358.6 L108.2 358.5 L110.2 358.3 L112.2 358.1 L114.2 357.7 L116.2 357.0 L118.2 356.2 L120.2 355.2 L122.2 354.2 L124.2 353.1 L126.2 352.2 L128.2 351.2 L130.2 350.2 L132.2 349.1 L134.2 348.0 L136.2 346.9 L138.2 345.7 L140.2 344.6 L142.2 343.4 L144.2 342.2 L146.2 340.8 L148.2 339.2 L150.2 337.6 L152.2 336.0 L154.2 334.6 L156.2 333.5 L158.2 332.9 L160.2 332.9 L162.2 333.4 L164.2 334.3 L166.2 335.2 L168.2 336.1 L170.2 337.1 L172.2 338.2 L174.2 339.4 L176.2 340.4 L178.2 341.4 L180.2 342.1 L182.2 342.7 L184.2 343.3 L186.2 343.9 L188.2 344.4 L190.2 344.8 L192.2 345.0 L194.2 345.1 L196.2 344.9 L198.2 344.2 L200.2 343.2 L202.2 342.0 L204.2 340.6 L206.2 339.1 L208.2 337.7 L210.2 336.4 L212.2 334.9 L214.2 333.3 L216.2 331.7 L218.2 330.1 L220.2 328.6 L222.2 327.3 L224.2 326.1 L226.2 325.0 L228.2 323.9 L230.2 322.8 L232.2 321.5 L234.2 320.1 L236.2 318.5 L238.2 316.7 L240.2 314.9 L242.2 313.1 L244.2 311.3 L246.2 309.8 L248.2 308.2 L250.2 306.9 L252.2 306.0 L254.2 305.2 L256.2 304.6 L258.2 304.5 L260.2 304.6 L262.2 304.9 L264.2 305.1 L266.2 305.5 L268.2 306.1 L270.2 306.8 L272.2 307.8 L274.2 309.5 L276.2 311.7 L278.2 314.3 L280.2 316.8 L282.2 319.1 L284.2 321.3 L286.2 323.6 L288.2 325.9 L290.2 328.1 L292.2 330.0 L294.2 331.7 L296.2 333.1 L298.2 334.4 L300.2 335.6 L302.2 336.6 L304.2 337.4 L306.2 338.1 L308.2 338.6 L310.2 339.1 L312.2 339.5 L314.2 339.6 L316.2 339.6 L318.2 339.5 L320.2 339.5 L322.2 339.4 L324.2 339.3 L326.2 339.1 L328.2 338.8 L330.2 338.5 L332.2 338.1 L334.2 337.9 L336.2 337.8 L338.2 337.9 L340.2 338.2 L342.2 338.5 L344.2 339.0 L346.2 339.5 L348.2 340.1 L350.2 341.1 L352.2 342.2 L354.2 343.4 L356.2 344.6 L358.2 345.9 L360.2 347.3 L362.2 348.6 L364.2 349.9 L366.2 351.2 L368.2 352.5 L370.2 353.8 L372.2 355.1 L374.2 356.4 L376.2 357.6 L378.2 359.0 L380.2 360.3 L382.2 361.6 L384.2 362.8 L386.2 363.9 L388.2 364.9 L390.2 365.9 L392.2 366.8 L394.2 367.4 L396.2 367.6 L398.2 367.7 L400.2 367.7 L402.2 367.8 L404.2 367.8 L406.2 367.4 L408.2 366.8 L410.2 366.1 L412.2 365.4 L414.2 364.7 L416.2 363.8 L418.2 362.9 L420.2 362.0 L422.2 361.0 L424.2 360.0 L426.2 359.0 L428.2 357.8 L430.2 356.5 L432.2 355.1 L434.2 353.4 L436.2 351.6 L438.2 349.7 L440.2 347.8 L442.2 345.9 L444.2 344.0 L446.2 342.0 L448.2 339.9 L450.2 337.9 L452.2 336.0 L454.2 334.2 L456.2 332.4 L458.2 330.7 L460.2 329.0 L462.2 327.3 L464.2 325.5 L466.2 323.7 L468.2 321.9 L470.2 320.1 L472.2 318.4 L474.2 316.7 L476.2 315.3 L478.2 313.9 L480.2 312.5 L482.2 311.2 L484.2 309.7 L486.2 308.1 L488.2 306.3 L490.2 304.3 L492.2 302.2 L494.2 300.1 L496.2 298.0 L498.2 295.9 L500.2 293.9 L502.2 291.8 L504.2 289.7 L506.2 287.6 L508.2 285.5 L510.2 283.5 L512.2 281.4 L514.2 279.5 L516.2 277.8 L518.2 276.0 L520.2 274.4 L522.2 272.8 L524.2 271.3 L526.2 269.9 L528.2 268.6 L530.2 267.4 L532.2 266.3 L534.2 265.2 L536.2 264.1 L538.2 263.2 L540.2 262.4 L542.2 261.6 L544.2 261.0 L546.2 260.5 L548.2 260.1 L550.2 259.7 L552.2 259.2 L554.2 258.7 L556.2 258.2 L558.2 257.4 L560.2 256.4 L562.2 255.3 L564.2 254.2 L566.2 253.2 L568.2 252.3 L570.2 251.7 L572.2 251.1 L574.2 250.5 L576.2 250.0 L578.2 249.4 L580.2 248.7 L582.2 248.0 L584.2 246.9 L586.2 245.7 L588.2 244.4 L590.2 243.4 L592.2 242.6 L594.2 242.0 L596.2 241.5 L598.2 241.0 L600.2 240.5 L602.2 240.0 L604.2 239.6 L606.2 239.1 L608.2 238.7 L610.2 238.3 L612.2 237.9 L614.2 237.6 L616.2 237.3 L618.2 236.9 L620.2 236.5 L622.2 235.7 L624.2 234.5 L626.2 233.1 L628.2 231.7 L630.2 230.6 L632.2 229.6 L634.2 228.7 L636.2 227.8 L638.2 226.9 L640.2 225.9 L642.2 224.8 L644.2 223.7 L646.2 222.7 L648.2 221.7 L650.2 220.9 L652.2 220.1 L654.2 219.3 L656.2 218.6 L658.2 217.9 L660.2 217.2 L662.2 216.5 L664.2 215.8 L666.2 215.0 L668.2 214.4 L670.2 213.7 L672.2 212.9 L674.2 212.2 L676.2 211.4 L678.2 210.7 L680.2 209.9 L682.2 209.1 L684.2 208.2 L686.2 207.2 L688.2 205.9 L690.2 204.3 L692.2 202.6 L694.2 200.9 L696.2 199.2 L698.2 197.6 L700.2 196.0 L702.2 194.3 L704.2 192.6 L706.2 191.1 L708.2 189.7 L710.2 188.2 L712.2 186.8 L714.2 185.4 L716.2 184.3 L718.2 183.5 L720.2 182.9 L722.2 182.4 L724.2 182.0 L726.2 181.6 L728.2 180.9 L730.2 180.2 L732.2 179.3 L734.2 178.4 L736.2 177.5 L738.2 176.7 L740.2 175.8 L742.2 174.9 L744.2 174.0 L746.2 173.1 L748.2 172.4 L750.2 171.8 L752.2 171.4 L754.2 171.2 L756.2 171.0 L758.2 170.9 L760.2 170.9 L762.2 171.0 L764.2 171.2 L766.2 171.4 L768.2 171.7 L770.2 172.0 L772.2 172.3 L774.2 172.6 L776.2 172.9 L778.2 173.3 L780.2 173.9 L782.2 174.6 L784.2 175.5 L786.2 176.5 L788.2 177.6 L790.2 178.6 L792.2 179.6 L794.2 180.6 L796.2 181.5 L798.2 182.4 L800.2 183.4 L802.2 184.6 L804.2 186.0 L806.2 187.7 L808.2 189.6 L810.2 191.6 L812.2 193.5 L814.2 195.5 L816.2 197.3 L818.2 199.2 L820.2 201.1 L822.2 203.0 L824.2 205.1 L826.2 207.3 L828.2 209.6 L830.2 212.0 L832.2 214.5 L834.2 217.1 L836.2 219.9 L838.2 222.9 L840.2 226.1 L842.2 229.2 L844.2 232.3 L846.2 235.3 L848.2 238.3 L850.2 241.2 L852.2 243.9 L854.2 246.6 L856.2 249.2 L858.2 251.5 L860.2 253.6 L862.2 255.6 L864.2 257.5 L866.2 259.5 L868.2 261.6 L870.2 263.7 L872.2 265.9 L874.2 268.2 L876.2 270.5 L878.2 273.0 L880.2 275.5 L882.2 278.3 L884.2 281.3 L886.2 284.2 L888.2 286.8 L890.2 289.1 L892.2 291.2 L894.2 293.2 L896.2 295.0 L898.2 296.5 L900.2 297.6 L902.2 298.6 L904.2 299.5 L906.2 300.3 L908.2 300.9 L910.2 301.4 L912.2 301.7 L914.2 302.0 L916.2 302.2 L918.2 302.3 L920.2 302.5 L922.2 302.6 L924.2 302.6 L926.2 302.5 L928.2 302.3 L930.2 302.0 L932.2 301.6 L934.2 301.1 L936.2 300.5 L938.2 300.0 L940.2 299.3 L942.2 298.5 L944.2 297.5 L946.2 296.5 L948.2 295.3 L950.2 293.8 L952.2 292.0 L954.2 290.1 L956.2 288.1 L958.2 286.1 L960.2 284.0 L962.2 281.9 L964.2 279.8 L966.2 278.1 L968.2 276.5 L970.2 275.0 L972.2 273.6 L974.2 272.4 L976.2 271.3 L978.2 270.3 L980.2 269.3 L982.2 268.5 L984.2 267.8 L986.2 267.2 L988.2 266.7 L990.2 266.2 L992.2 265.8 L994.2 265.5 L996.2 265.2 L998.2 265.0 L1000.2 264.8 L1002.2 264.6 L1004.2 264.5 L1006.2 264.5 L1008.2 264.6 L1010.2 264.7 L1012.2 264.8 L1014.2 265.0 L1016.2 265.2 L1018.2 265.4 L1020.2 265.5 L1022.2 265.7 L1024.2 266.0 L1026.2 266.2 L1028.2 266.5 L1030.2 266.8 L1032.2 267.2 L1034.2 267.6 L1036.2 268.1 L1038.2 268.7 L1040.2 269.5 L1042.2 270.6 L1044.2 272.0 L1046.2 273.7 L1048.2 275.4 L1050.2 277.4 L1052.2 279.5 L1054.2 281.5 L1056.2 283.3 L1058.2 285.1 L1060.2 286.8 L1062.2 288.6 L1064.2 290.3 L1066.2 292.1 L1068.2 293.9 L1070.2 295.7 L1072.2 297.6 L1074.2 299.6 L1076.2 301.7 L1078.2 304.0 L1080.2 306.3 L1082.2 308.8 L1084.2 311.6 L1086.2 314.6 L1088.2 317.7 L1090.2 320.6 L1092.2 323.3 L1094.2 325.9 L1096.2 328.6 L1098.2 331.5 L1100.2 334.5 L1102.2 337.5 L1104.2 340.5 L1106.2 343.5 L1108.2 346.3 L1110.2 348.7 L1112.2 350.7 L1114.2 352.5 L1116.2 354.2 L1118.2 355.8 L1120.2 357.5 L1122.2 359.1 L1124.2 360.6 L1126.2 361.8 L1128.2 362.5 L1130.2 362.9 L1132.2 363.2 L1134.2 363.5 L1136.2 364.0 L1138.2 364.8 L1140.2 366.1 L1142.2 367.6 L1144.2 369.1 L1146.2 370.6 L1148.2 371.9 L1150.2 373.1 L1152.2 374.2 L1154.2 375.4 L1156.2 376.5 L1158.2 377.6 L1160.2 378.5 L1162.2 379.4 L1164.2 380.4 L1166.2 381.5 L1168.2 382.9 L1170.2 384.7 L1172.2 386.7 L1174.2 388.6 L1176.2 390.2 L1178.2 391.6 L1180.2 392.7 L1182.2 393.6 L1184.2 394.2 L1186.2 394.8 L1188.2 395.3 L1190.2 395.8 L1192.2 396.2 L1194.2 396.6 L1196.2 396.9 L1198.2 397.2 L1200.2 397.5 L1202.2 397.7 L1204.2 397.9 L1206.2 398.0 L1208.2 398.0 L1210.2 397.9 L1212.2 397.8 L1214.2 397.6 L1216.2 397.4 L1218.2 397.3 L1220.2 397.1 L1222.2 397.0 L1224.2 396.8 L1226.2 396.6 L1228.2 396.5 L1230.2 396.3 L1232.2 396.2 L1234.2 396.1 L1236.2 396.0 L1238.2 395.9 L1240.2 395.8 L1242.2 395.6 L1244.2 395.3 L1246.2 394.8 L1248.2 394.2 L1250.2 393.5 L1252.2 392.9 L1254.2 392.3 L1256.2 391.6 L1258.2 391.0 L1260.2 390.4 L1262.2 389.9 L1264.2 389.4 L1266.2 389.0 L1268.2 388.6 L1270.2 388.5 L1272.2 388.5 L1274.2 388.6 L1276.2 388.7 L1278.2 388.8 L1280.2 388.9 L1282.2 388.9 L1284.2 388.7 L1286.2 388.4 L1288.2 388.1 L1290.2 387.8 L1292.2 387.7 L1294.2 387.7 L1296.2 387.8 L1298.2 387.9 L1300.2 388.0 L1302.2 388.1 L1304.2 388.3 L1306.2 388.6 L1308.2 388.8 L1310.2 388.9 L1312.2 388.8 L1314.2 388.2 L1316.2 387.4 L1318.2 386.6 L1320.2 386.1 L1322.2 385.9 L1324.2 385.6 L1326.2 385.4 L1328.2 385.3 L1330.2 385.3 L1332.2 385.4 L1334.2 385.5 L1336.2 385.7 L1338.2 386.0 L1340.2 386.3 L1340.6 386.4" fill="none" stroke="#f23645" stroke-width="1"/>
<path d="M2.2 692.0 L3.7 691.0 L5.2 690.0 L6.7 689.1 L8.2 688.4 L9.7 687.9 L11.2 687.7 L12.7 687.6 L14.2 687.6 L15.7 687.6 L17.2 687.6 L18.7 687.5 L20.2 687.5 L21.7 687.5 L23.2 687.5 L24.7 687.4 L26.2 687.4 L27.7 687.1 L29.2 686.8 L30.7 686.4 L32.2 686.1 L33.7 686.1 L35.2 686.3 L36.7 686.6 L38.2 687.0 L39.7 687.5 L41.2 688.0 L42.7 688.4 L44.2 688.8 L45.7 689.2 L47.2 689.6 L48.7 690.0 L50.2 690.4 L51.7 690.7 L53.2 691.1 L54.7 691.3 L56.2 691.5 L57.7 691.7 L59.2 691.9 L60.7 692.0 L62.2 692.2 L63.7 692.3 L65.2 692.4 L66.7 692.6 L68.2 692.7 L69.7 692.9 L71.2 693.1 L72.7 693.3 L74.2 693.6 L75.7 693.9 L77.2 694.1 L78.7 694.4 L80.2 694.6 L81.7 694.7 L83.2 694.7 L84.7 694.6 L86.2 694.5 L87.7 694.4 L89.2 694.2 L90.7 694.0 L92.2 693.8 L93.7 693.4 L95.2 692.9 L96.7 692.3 L98.2 691.6 L99.7 691.1 L101.2 690.7 L102.7 690.5 L104.2 690.5 L105.7 690.6 L107.2 690.8 L108.7 691.1 L110.2 691.3 L111.7 691.6 L113.2 691.9 L114.7 692.1 L116.2 692.4 L117.7 692.8 L119.2 693.2 L120.7 693.7 L122.2 694.1 L123.7 694.5 L125.2 694.8 L126.7 695.0 L128.2 695.1 L129.7 694.9 L131.2 694.1 L132.7 692.9 L134.2 691.6 L135.7 690.4 L137.2 689.7 L138.7 689.6 L140.2 689.6 L141.7 689.6 L143.2 689.6 L144.7 689.6 L146.2 689.6 L147.7 689.6 L149.2 689.6 L150.7 689.6 L152.2 689.6 L153.7 689.6 L155.2 689.6 L156.7 689.6 L158.2 689.6 L159.7 689.3 L161.2 688.7 L162.7 688.0 L164.2 687.3 L165.7 686.9 L167.2 686.9 L168.7 687.5 L170.2 688.3 L171.7 689.0 L173.2 689.2 L174.7 689.2 L176.2 689.1 L177.7 689.0 L179.2 689.0 L180.7 688.9 L182.2 688.8 L183.7 688.8 L185.2 688.9 L186.7 689.2 L188.2 689.7 L189.7 690.1 L191.2 690.6 L192.7 690.9 L194.2 691.0 L195.7 690.8 L197.2 690.5 L198.7 690.0 L200.2 689.6 L201.7 689.3 L203.2 689.1 L204.7 689.0 L206.2 688.8 L207.7 688.7 L209.2 688.6 L210.7 688.5 L212.2 688.4 L213.7 688.4 L215.2 688.3 L216.7 688.3 L218.2 688.3 L219.7 688.5 L221.2 688.7 L222.7 688.9 L224.2 689.2 L225.7 689.5 L227.2 689.9 L228.7 690.3 L230.2 690.8 L231.7 691.2 L233.2 691.6 L234.7 691.9 L236.2 692.1 L237.7 692.3 L239.2 692.4 L240.7 692.5 L242.2 692.7 L243.7 692.8 L245.2 692.8 L246.7 692.9 L248.2 692.9 L249.7 692.9 L251.2 692.8 L252.7 692.6 L254.2 692.5 L255.7 692.4 L257.2 692.3 L258.7 692.3 L260.2 692.4 L261.7 692.6 L263.2 692.8 L264.7 693.0 L266.2 693.1 L267.7 693.3 L269.2 693.4 L270.7 693.4 L272.2 693.4 L273.7 693.4 L275.2 693.3 L276.7 693.3 L278.2 693.3 L279.7 693.3 L281.2 693.4 L282.7 693.6 L284.2 694.0 L285.7 694.5 L287.2 695.1 L288.7 695.6 L290.2 696.0 L291.7 696.4 L293.2 696.7 L294.7 697.1 L296.2 697.4 L297.7 697.8 L299.2 698.1 L300.7 698.3 L302.2 698.6 L303.7 698.7 L305.2 698.8 L306.7 698.6 L308.2 697.9 L309.7 696.9 L311.2 695.9 L312.7 695.4 L314.2 695.2 L315.7 695.2 L317.2 695.1 L318.7 695.1 L320.2 695.1 L321.7 695.4 L323.2 695.8 L324.7 696.4 L326.2 697.0 L327.7 697.7 L329.2 698.3 L330.7 698.7 L332.2 699.0 L333.7 699.1 L335.2 699.1 L336.7 699.0 L338.2 698.9 L339.7 698.8 L341.2 698.8 L342.7 699.1 L344.2 699.6 L345.7 700.2 L347.2 700.5 L348.7 700.6 L350.2 700.5 L351.7 700.4 L353.2 700.3 L354.7 700.2 L356.2 700.2 L357.7 700.5 L359.2 701.0 L360.7 701.6 L362.2 702.2 L363.7 702.8 L365.2 703.4 L366.7 703.7 L368.2 703.9 L369.7 703.8 L371.2 703.4 L372.7 702.9 L374.2 702.4 L375.7 702.1 L377.2 701.8 L378.7 701.6 L380.2 701.4 L381.7 701.3 L383.2 701.4 L384.7 701.6 L386.2 701.9 L387.7 702.4 L389.2 702.8 L390.7 703.3 L392.2 703.7 L393.7 704.0 L395.2 704.3 L396.7 704.3 L398.2 704.4 L399.7 704.4 L401.2 704.5 L402.7 704.5 L404.2 704.5 L405.7 704.5 L407.2 704.4 L408.7 704.4 L410.2 704.3 L411.7 704.2 L413.2 704.1 L414.7 704.0 L416.2 703.9 L417.7 703.8 L419.2 703.7 L420.7 703.5 L422.2 703.4 L423.7 703.3 L425.2 703.0 L426.7 702.7 L428.2 702.4 L429.7 702.2 L431.2 702.1 L432.7 702.1 L434.2 702.2 L435.7 702.2 L437.2 702.3 L438.7 702.5 L440.2 703.0 L441.7 703.7 L443.2 704.3 L444.7 704.5 L446.2 704.5 L447.7 704.4 L449.2 704.2 L450.7 704.1 L452.2 703.8 L453.7 703.2 L455.2 702.3 L456.7 701.3 L458.2 700.6 L459.7 700.4 L461.2 700.4 L462.7 700.4 L464.2 700.4 L465.7 700.4 L467.2 700.5 L468.7 700.6 L470.2 700.8 L471.7 701.0 L473.2 701.1 L474.7 701.2 L476.2 701.2 L477.7 701.3 L479.2 701.3 L480.7 701.3 L482.2 701.1 L483.7 700.8 L485.2 700.5 L486.7 700.4 L488.2 700.5 L489.7 700.7 L491.2 700.9 L492.7 701.1 L494.2 701.3 L495.7 701.4 L497.2 701.5 L498.7 701.5 L500.2 701.6 L501.7 701.7 L503.2 702.0 L504.7 702.6 L506.2 703.1 L507.7 703.6 L509.2 703.9 L510.7 704.1 L512.2 704.3 L513.7 704.4 L515.2 704.5 L516.7 704.4 L518.2 704.3 L519.7 704.1 L521.2 704.0 L522.7 703.9 L524.2 704.0 L525.7 704.2 L527.2 704.5 L528.7 704.9 L530.2 705.3 L531.7 705.7 L533.2 706.1 L534.7 706.5 L536.2 706.8 L537.7 707.0 L539.2 707.2 L540.7 707.3 L542.2 707.4 L543.7 707.5 L545.2 707.6 L546.7 707.8 L548.2 708.0 L549.7 708.3 L551.2 708.5 L552.7 708.8 L554.2 709.0 L555.7 709.2 L557.2 709.5 L558.7 709.7 L560.2 709.8 L561.7 710.0 L563.2 710.1 L564.7 710.3 L566.2 710.4 L567.7 710.6 L569.2 710.7 L570.7 710.8 L572.2 710.9 L573.7 711.0 L575.2 711.1 L576.7 711.1 L578.2 711.1 L579.7 710.7 L581.2 710.1 L582.7 709.6 L584.2 709.2 L585.7 709.2 L587.2 709.4 L588.7 709.6 L590.2 709.9 L591.7 710.0 L593.2 709.9 L594.7 709.6 L596.2 709.3 L597.7 708.9 L599.2 708.7 L600.7 708.7 L602.2 708.7 L603.7 708.8 L605.2 708.9 L606.7 708.9 L608.2 709.0 L609.7 709.2 L611.2 709.3 L612.7 709.5 L614.2 709.7 L615.7 709.9 L617.2 710.1 L618.7 710.3 L620.2 710.6 L621.7 710.9 L623.2 711.2 L624.7 711.5 L626.2 711.8 L627.7 711.8 L629.2 711.5 L630.7 711.1 L632.2 710.8 L633.7 710.7 L635.2 710.7 L636.7 710.8 L638.2 710.8 L639.7 710.9 L641.2 710.9 L642.7 711.0 L644.2 711.0 L645.7 711.1 L647.2 711.1 L648.7 710.9 L650.2 710.4 L651.7 709.7 L653.2 709.1 L654.7 708.9 L656.2 709.0 L657.7 709.1 L659.2 709.2 L660.7 709.4 L662.2 709.4 L663.7 709.3 L665.2 709.0 L666.7 708.6 L668.2 708.2 L669.7 707.7 L671.2 707.1 L672.7 706.5 L674.2 706.0 L675.7 705.7 L677.2 705.7 L678.7 705.6 L680.2 705.6 L681.7 705.6 L683.2 705.6 L684.7 705.7 L686.2 705.9 L687.7 706.3 L689.2 706.7 L690.7 707.0 L692.2 707.5 L693.7 708.1 L695.2 708.6 L696.7 708.9 L698.2 708.9 L699.7 708.9 L701.2 708.8 L702.7 708.8 L704.2 708.7 L705.7 708.7 L707.2 708.6 L708.7 708.5 L710.2 708.4 L711.7 708.4 L713.2 708.3 L714.7 708.2 L716.2 708.1 L717.7 708.0 L719.2 707.9 L720.7 707.7 L722.2 707.6 L723.7 707.4 L725.2 707.2 L726.7 707.1 L728.2 706.9 L729.7 706.9 L731.2 706.8 L732.7 706.8 L734.2 706.8 L735.7 706.9 L737.2 706.9 L738.7 707.0 L740.2 707.1 L741.7 707.2 L743.2 707.5 L744.7 707.7 L746.2 708.0 L747.7 708.4 L749.2 708.8 L750.7 709.1 L752.2 709.4 L753.7 709.3 L755.2 709.0 L756.7 708.4 L758.2 708.0 L759.7 707.8 L761.2 707.8 L762.7 707.9 L764.2 708.0 L765.7 708.1 L767.2 708.1 L768.7 708.1 L770.2 708.1 L771.7 708.0 L773.2 708.0 L774.7 707.9 L776.2 707.9 L777.7 707.8 L779.2 707.8 L780.7 707.8 L782.2 707.8 L783.7 707.9 L785.2 708.0 L786.7 708.1 L788.2 708.2 L789.7 708.4 L791.2 708.5 L792.7 708.7 L794.2 708.9 L795.7 709.1 L797.2 709.4 L798.7 709.8 L800.2 710.1 L801.7 710.2 L803.2 710.2 L804.7 710.2 L806.2 710.1 L807.7 710.1 L809.2 710.0 L810.7 709.3 L812.2 708.0 L813.7 706.5 L815.2 705.4 L816.7 705.2 L818.2 705.3 L819.7 705.5 L821.2 705.8 L822.7 706.1 L824.2 706.4 L825.7 706.7 L827.2 707.1 L828.7 707.5 L830.2 707.9 L831.7 708.2 L833.2 708.5 L834.7 708.7 L836.2 709.0 L837.7 709.2 L839.2 709.5 L840.7 709.7 L842.2 710.0 L843.7 710.3 L845.2 710.6 L846.7 710.9 L848.2 711.1 L849.7 711.3 L851.2 711.3 L852.7 711.2 L854.2 711.0 L855.7 710.8 L857.2 710.5 L858.7 710.2 L860.2 709.9 L861.7 709.5 L863.2 709.0 L864.7 708.7 L866.2 708.5 L867.7 708.4 L869.2 708.2 L870.7 708.1 L872.2 707.9 L873.7 707.7 L875.2 707.5 L876.7 707.2 L878.2 707.0 L879.7 706.7 L881.2 706.4 L882.7 706.1 L884.2 705.8 L885.7 705.5 L887.2 705.1 L888.7 704.5 L890.2 704.0 L891.7 703.6 L893.2 703.4 L894.7 703.3 L896.2 703.2 L897.7 703.2 L899.2 703.1 L900.7 702.9 L902.2 702.5 L903.7 702.1 L905.2 701.8 L906.7 701.7 L908.2 701.8 L909.7 701.8 L911.2 702.0 L912.7 702.1 L914.2 702.3 L915.7 702.6 L917.2 702.9 L918.7 703.2 L920.2 703.3 L921.7 703.2 L923.2 703.1 L924.7 703.1 L926.2 703.0 L927.7 703.1 L929.2 703.5 L930.7 704.0 L932.2 704.6 L933.7 705.0 L935.2 705.3 L936.7 705.4 L938.2 705.6 L939.7 705.7 L941.2 705.7 L942.7 705.6 L944.2 705.3 L945.7 705.0 L947.2 704.7 L948.7 704.6 L950.2 704.6 L951.7 704.5 L953.2 704.5 L954.7 704.5 L956.2 704.7 L957.7 705.2 L959.2 705.9 L960.7 706.4 L962.2 706.7 L963.7 706.7 L965.2 706.7 L966.7 706.6 L968.2 706.5 L969.7 706.3 L971.2 705.7 L972.7 705.0 L974.2 704.3 L975.7 703.9 L977.2 704.0 L978.7 704.2 L980.2 704.6 L981.7 704.9 L983.2 705.2 L984.7 705.3 L986.2 705.4 L987.7 705.5 L989.2 705.5 L990.7 705.6 L992.2 705.6 L993.7 705.7 L995.2 705.8 L996.7 705.9 L998.2 706.2 L999.7 706.7 L1001.2 707.2 L1002.7 707.6 L1004.2 707.9 L1005.7 708.2 L1007.2 708.4 L1008.7 708.6 L1010.2 708.9 L1011.7 709.1 L1013.2 709.5 L1014.7 709.8 L1016.2 710.2 L1017.7 710.6 L1019.2 711.0 L1020.7 711.4 L1022.2 711.7 L1023.7 712.0 L1025.2 712.2 L1026.7 712.4 L1028.2 712.6 L1029.7 712.7 L1031.2 712.9 L1032.7 713.1 L1034.2 713.2 L1035.7 713.4 L1037.2 713.5 L1038.7 713.5 L1040.2 713.3 L1041.7 712.7 L1043.2 712.1 L1044.7 711.6 L1046.2 711.3 L1047.7 711.1 L1049.2 710.9 L1050.7 710.8 L1052.2 710.6 L1053.7 710.5 L1055.2 710.4 L1056.7 710.4 L1058.2 710.3 L1059.7 710.3 L1061.2 710.4 L1062.7 710.5 L1064.2 710.8 L1065.7 711.1 L1067.2 711.3 L1068.7 711.6 L1070.2 712.0 L1071.7 712.4 L1073.2 712.7 L1074.7 712.9 L1076.2 713.2 L1077.7 713.4 L1079.2 713.5 L1080.7 713.6 L1082.2 713.5 L1083.7 713.2 L1085.2 712.8 L1086.7 712.5 L1088.2 712.5 L1089.7 712.8 L1091.2 713.1 L1092.7 713.4 L1094.2 713.6 L1095.7 713.6 L1097.2 713.5 L1098.7 713.4 L1100.2 713.3 L1101.7 713.1 L1103.2 712.8 L1104.7 712.3 L1106.2 711.7 L1107.7 711.4 L1109.2 711.3 L1110.7 711.5 L1112.2 711.8 L1113.7 712.0 L1115.2 712.2 L1116.7 712.2 L1118.2 712.0 L1119.7 711.8 L1121.2 711.8 L1122.7 711.9 L1124.2 712.1 L1125.7 712.3 L1127.2 712.4 L1128.7 712.5 L1130.2 712.5 L1131.7 712.3 L1133.2 712.0 L1134.7 711.6 L1136.2 711.3 L1137.7 711.1 L1139.2 710.8 L1140.7 710.6 L1142.2 710.4 L1143.7 710.3 L1145.2 710.4 L1146.7 710.6 L1148.2 711.0 L1149.7 711.4 L1151.2 711.8 L1152.7 712.2 L1154.2 712.6 L1155.7 713.1 L1157.2 713.6 L1158.7 714.1 L1160.2 714.6 L1161.7 715.0 L1163.2 715.5 L1164.7 715.9 L1166.2 716.2 L1167.7 716.6 L1169.2 716.9 L1170.7 717.2 L1172.2 717.3 L1173.7 717.3 L1175.2 717.2 L1176.7 717.0 L1178.2 716.9 L1179.7 716.6 L1181.2 716.1 L1182.7 715.4 L1184.2 714.8 L1185.7 714.3 L1187.2 714.1 L1188.7 713.9 L1190.2 713.7 L1191.7 713.6 L1193.2 713.6 L1194.7 713.6 L1196.2 713.8 L1197.7 714.0 L1199.2 714.3 L1200.7 714.6 L1202.2 714.9 L1203.7 715.1 L1205.2 715.3 L1206.7 715.3 L1208.2 715.3 L1209.7 715.3 L1211.2 715.3 L1212.7 715.3 L1214.2 715.3 L1215.7 715.6 L1217.2 716.2 L1218.7 716.8 L1220.2 717.2 L1221.7 717.3 L1223.2 717.3 L1224.7 717.3 L1226.2 717.3 L1227.7 717.3 L1229.2 717.3 L1230.7 717.5 L1232.2 717.7 L1233.7 717.9 L1235.2 718.1 L1236.7 718.1 L1238.2 718.1 L1239.7 718.2 L1241.2 718.2 L1242.7 718.2 L1244.2 718.3 L1245.7 718.5 L1247.2 718.8 L1248.7 719.2 L1250.2 719.5 L1251.7 719.9 L1253.2 720.2 L1254.7 720.6 L1256.2 720.8 L1257.7 721.0 L1259.2 721.3 L1260.7 721.5 L1262.2 721.7 L1263.7 721.9 L1265.2 722.1 L1266.7 722.2 L1268.2 722.4 L1269.7 722.6 L1271.2 722.7 L1272.7 722.9 L1274.2 723.1 L1275.7 723.2 L1277.2 723.3 L1278.7 723.4 L1280.2 723.5 L1281.7 723.6 L1283.2 723.6 L1284.7 723.7 L1286.2 723.7 L1287.7 723.8 L1289.2 723.8 L1290.7 723.8 L1292.2 723.7 L1293.7 723.4 L1295.2 723.0 L1296.7 722.5 L1298.2 722.1 L1299.7 721.6 L1301.2 721.1 L1302.7 720.7 L1304.2 720.3 L1305.7 720.1 L1307.2 719.8 L1308.7 719.6 L1310.2 719.5 L1311.7 719.5 L1313.2 719.5 L1314.7 719.5 L1316.2 719.5 L1317.7 719.5 L1319.2 719.5 L1320.7 719.6 L1322.2 719.8 L1323.7 720.0 L1325.2 720.2 L1326.7 720.4 L1328.2 720.5 L1329.7 720.6 L1331.2 720.7 L1332.7 720.8 L1334.2 721.1 L1335.7 721.4 L1337.2 721.8 L1338.7 722.2 L1339.7 722.5" fill="none" stroke="#b22222" stroke-width="1.1"/>
<path d="M2.2 766.0 L5.1 763.1 L12.0 771.4 L18.4 770.1 L25.7 759.1 L33.1 742.1 L40.4 748.9 L46.9 759.1 L54.2 759.4 L60.7 769.2 L68.0 776.0 L75.4 779.8 L81.8 780.6 L89.2 771.4 L96.0 784.4 L103.0 774.3 L109.9 772.5 L116.7 767.9 L124.1 759.4 L130.5 755.4 L137.9 737.5 L145.2 738.8 L152.6 743.4 L159.0 753.5 L166.4 765.5 L172.8 770.5 L180.2 769.2 L194.0 769.2 L201.3 763.7 L208.7 759.4 L216.0 755.4 L222.5 754.8 L229.8 759.4 L236.3 764.2 L243.6 760.3 L250.0 750.4 L257.4 756.3 L264.2 768.3 L271.2 774.7 L280.0 785.7 L284.6 789.8 L292.0 785.7 L298.8 782.4 L305.7 786.1 L313.1 782.0 L320.1 771.4 L326.9 768.6 L334.2 765.9 L341.2 764.0 L348.0 763.5 L355.0 770.5 L361.8 772.5 L369.2 774.7 L375.1 776.2 L382.0 769.5 L389.4 759.1 L395.8 757.2 L402.8 755.9 L410.0 747.5 L417.0 747.5 L424.0 755.7 L431.1 751.7 L438.1 743.1 L444.9 743.2 L451.9 738.3 L458.9 733.0 L465.7 731.8 L473.1 740.1 L480.0 743.4 L486.8 750.4 L493.8 756.9 L501.2 754.5 L508.0 755.0 L514.8 754.6 L522.1 759.1 L529.1 760.3 L536.1 762.7 L542.9 768.3 L549.9 769.7 L557.1 775.2 L564.0 771.9 L571.0 767.7 L577.8 768.4 L585.2 756.7 L592.2 755.0 L599.0 740.3 L606.0 733.7 L613.0 741.2 L620.1 747.7 L627.1 743.4 L633.9 749.3 L640.9 751.2 L647.9 749.3 L655.1 753.2 L662.0 760.3 L669.0 757.2 L675.8 764.6 L683.2 770.8 L690.2 764.2 L697.0 758.1 L704.0 755.7 L711.1 745.3 L718.1 755.4 L724.9 765.9 L731.9 751.7 L738.9 737.5 L746.1 738.5 L753.1 743.1 L760.0 764.2 L766.8 768.8 L773.8 773.2 L781.2 782.0 L788.0 786.3 L794.8 787.2 L802.1 791.4 L809.1 792.5 L816.1 799.1 L822.9 795.5 L830.3 789.4 L837.6 786.1 L844.0 783.0 L851.0 780.2 L857.8 779.3 L865.2 775.6 L872.2 771.0 L879.0 770.5 L885.0 772.5 L892.4 765.5 L898.8 765.3 L906.2 757.2 L913.0 749.3 L920.0 749.5 L926.8 747.5 L948.5 747.5 L954.9 752.6 L962.3 753.9 L968.7 757.6 L976.1 764.6 L983.4 769.5 L989.8 774.7 L996.8 779.7 L1003.6 780.6 L1011.0 776.5 L1018.0 778.4 L1024.8 781.5 L1032.1 778.4 L1039.1 776.2 L1045.9 779.7 L1053.3 783.5 L1060.1 780.2 L1067.1 781.1 L1073.9 783.0 L1080.9 784.4 L1087.8 786.6 L1094.6 785.5 L1101.6 786.3 L1108.4 780.6 L1115.8 782.0 L1122.2 779.8 L1129.2 778.0 L1137.1 769.5 L1143.9 772.3 L1150.9 778.7 L1158.1 774.7 L1165.0 772.5 L1172.0 774.3 L1178.8 787.6 L1185.8 777.4 L1193.0 757.6 L1200.0 754.1 L1206.8 752.6 L1213.8 742.7 L1220.8 742.9 L1227.9 752.6 L1234.9 768.3 L1241.9 760.0 L1249.1 755.0 L1256.1 754.5 L1263.0 752.6 L1270.2 750.2 L1277.2 756.3 L1284.2 765.5 L1291.0 760.3 L1298.0 770.1 L1304.8 790.7 L1312.1 785.7 L1319.1 773.8 L1325.9 763.7 L1332.9 773.8 L1339.7 771.4" fill="none" stroke="#2962ff" stroke-width="1.1" stroke-linejoin="round"/>
<g shape-rendering="crispEdges">
<rect x="5" y="272" width="1" height="79" fill="#737375"/>
<rect x="3" y="316" width="5" height="13" fill="#5b1a13"/>
<rect x="4" y="317" width="3" height="11" fill="#d75442"/>
<rect x="12" y="308" width="1" height="92" fill="#737375"/>
<rect x="10" y="325" width="5" height="37" fill="#5b1a13"/>
<rect x="11" y="326" width="3" height="35" fill="#d75442"/>
<rect x="19" y="325" width="1" height="66" fill="#737375"/>
<rect x="17" y="346" width="5" height="22" fill="#225437"/>
<rect x="18" y="347" width="3" height="20" fill="#6ba583"/>
<rect x="26" y="301" width="1" height="58" fill="#737375"/>
<rect x="24" y="323" width="5" height="24" fill="#225437"/>
<rect x="25" y="324" width="3" height="22" fill="#6ba583"/>
<rect x="33" y="244" width="1" height="81" fill="#737375"/>
<rect x="31" y="273" width="5" height="49" fill="#225437"/>
<rect x="32" y="274" width="3" height="47" fill="#6ba583"/>
<rect x="40" y="263" width="1" height="41" fill="#737375"/>
<rect x="38" y="274" width="5" height="28" fill="#5b1a13"/>
<rect x="39" y="275" width="3" height="26" fill="#d75442"/>
<rect x="47" y="295" width="1" height="53" fill="#737375"/>
<rect x="45" y="302" width="5" height="25" fill="#5b1a13"/>
<rect x="46" y="303" width="3" height="23" fill="#d75442"/>
<rect x="54" y="311" width="1" height="31" fill="#737375"/>
<rect x="52" y="323" width="5" height="11" fill="#225437"/>
<rect x="53" y="324" width="3" height="9" fill="#6ba583"/>
<rect x="61" y="318" width="1" height="58" fill="#737375"/>
<rect x="59" y="320" width="5" height="56" fill="#5b1a13"/>
<rect x="60" y="321" width="3" height="54" fill="#d75442"/>
<rect x="68" y="349" width="1" height="41" fill="#737375"/>
<rect x="66" y="375" width="5" height="15" fill="#5b1a13"/>
<rect x="67" y="376" width="3" height="13" fill="#d75442"/>
<rect x="75" y="364" width="1" height="55" fill="#737375"/>
<rect x="73" y="386" width="5" height="6" fill="#225437"/>
<rect x="74" y="387" width="3" height="4" fill="#6ba583"/>
<rect x="82" y="377" width="1" height="37" fill="#737375"/>
<rect x="80" y="388" width="5" height="4" fill="#5b1a13"/>
<rect x="81" y="389" width="3" height="2" fill="#d75442"/>
<rect x="89" y="339" width="1" height="56" fill="#737375"/>
<rect x="87" y="378" width="5" height="12" fill="#225437"/>
<rect x="88" y="379" width="3" height="10" fill="#6ba583"/>
<rect x="96" y="368" width="1" height="73" fill="#737375"/>
<rect x="94" y="381" width="5" height="51" fill="#5b1a13"/>
<rect x="95" y="382" width="3" height="49" fill="#d75442"/>
<rect x="103" y="350" width="1" height="88" fill="#737375"/>
<rect x="101" y="361" width="5" height="73" fill="#225437"/>
<rect x="102" y="362" width="3" height="71" fill="#6ba583"/>
<rect x="110" y="350" width="1" height="51" fill="#737375"/>
<rect x="108" y="361" width="5" height="26" fill="#5b1a13"/>
<rect x="109" y="362" width="3" height="24" fill="#d75442"/>
<rect x="117" y="347" width="1" height="42" fill="#737375"/>
<rect x="115" y="351" width="5" height="38" fill="#225437"/>
<rect x="116" y="352" width="3" height="36" fill="#6ba583"/>
<rect x="124" y="320" width="1" height="35" fill="#737375"/>
<rect x="122" y="327" width="5" height="20" fill="#225437"/>
<rect x="123" y="328" width="3" height="18" fill="#6ba583"/>
<rect x="131" y="300" width="1" height="47" fill="#737375"/>
<rect x="129" y="309" width="5" height="18" fill="#225437"/>
<rect x="130" y="310" width="3" height="16" fill="#6ba583"/>
<rect x="138" y="188" width="1" height="117" fill="#737375"/>
<rect x="136" y="246" width="5" height="59" fill="#225437"/>
<rect x="137" y="247" width="3" height="57" fill="#6ba583"/>
<rect x="145" y="192" width="1" height="63" fill="#737375"/>
<rect x="143" y="246" width="5" height="9" fill="#5b1a13"/>
<rect x="144" y="247" width="3" height="7" fill="#d75442"/>
<rect x="152" y="216" width="1" height="58" fill="#737375"/>
<rect x="150" y="245" width="5" height="11" fill="#225437"/>
<rect x="151" y="246" width="3" height="9" fill="#6ba583"/>
<rect x="159" y="235" width="1" height="58" fill="#737375"/>
<rect x="157" y="249" width="5" height="37" fill="#5b1a13"/>
<rect x="158" y="250" width="3" height="35" fill="#d75442"/>
<rect x="166" y="271" width="1" height="91" fill="#737375"/>
<rect x="164" y="283" width="5" height="77" fill="#5b1a13"/>
<rect x="165" y="284" width="3" height="75" fill="#d75442"/>
<rect x="173" y="336" width="1" height="32" fill="#737375"/>
<rect x="171" y="360" width="5" height="3" fill="#5b1a13"/>
<rect x="172" y="361" width="3" height="1" fill="#d75442"/>
<rect x="180" y="319" width="1" height="70" fill="#737375"/>
<rect x="178" y="351" width="5" height="14" fill="#225437"/>
<rect x="179" y="352" width="3" height="12" fill="#6ba583"/>
<rect x="187" y="332" width="1" height="51" fill="#737375"/>
<rect x="185" y="351" width="5" height="3" fill="#5b1a13"/>
<rect x="186" y="352" width="3" height="1" fill="#d75442"/>
<rect x="194" y="330" width="1" height="43" fill="#737375"/>
<rect x="192" y="354" width="5" height="11" fill="#5b1a13"/>
<rect x="193" y="355" width="3" height="9" fill="#d75442"/>
<rect x="201" y="305" width="1" height="76" fill="#737375"/>
<rect x="199" y="309" width="5" height="56" fill="#225437"/>
<rect x="200" y="310" width="3" height="54" fill="#6ba583"/>
<rect x="208" y="281" width="1" height="56" fill="#737375"/>
<rect x="206" y="309" width="5" height="4" fill="#5b1a13"/>
<rect x="207" y="310" width="3" height="2" fill="#d75442"/>
<rect x="215" y="247" width="1" height="75" fill="#737375"/>
<rect x="213" y="302" width="5" height="12" fill="#225437"/>
<rect x="214" y="303" width="3" height="10" fill="#6ba583"/>
<rect x="222" y="257" width="1" height="59" fill="#737375"/>
<rect x="220" y="272" width="5" height="30" fill="#225437"/>
<rect x="221" y="273" width="3" height="28" fill="#6ba583"/>
<rect x="229" y="269" width="1" height="42" fill="#737375"/>
<rect x="227" y="274" width="5" height="37" fill="#5b1a13"/>
<rect x="228" y="275" width="3" height="35" fill="#d75442"/>
<rect x="236" y="286" width="1" height="40" fill="#737375"/>
<rect x="234" y="310" width="5" height="16" fill="#5b1a13"/>
<rect x="235" y="311" width="3" height="14" fill="#d75442"/>
<rect x="243" y="274" width="1" height="57" fill="#737375"/>
<rect x="241" y="282" width="5" height="44" fill="#225437"/>
<rect x="242" y="283" width="3" height="42" fill="#6ba583"/>
<rect x="250" y="234" width="1" height="50" fill="#737375"/>
<rect x="248" y="242" width="5" height="40" fill="#225437"/>
<rect x="249" y="243" width="3" height="38" fill="#6ba583"/>
<rect x="257" y="230" width="1" height="64" fill="#737375"/>
<rect x="255" y="240" width="5" height="49" fill="#5b1a13"/>
<rect x="256" y="241" width="3" height="47" fill="#d75442"/>
<rect x="264" y="277" width="1" height="51" fill="#737375"/>
<rect x="262" y="289" width="5" height="38" fill="#5b1a13"/>
<rect x="263" y="290" width="3" height="36" fill="#d75442"/>
<rect x="271" y="306" width="1" height="45" fill="#737375"/>
<rect x="269" y="326" width="5" height="18" fill="#5b1a13"/>
<rect x="270" y="327" width="3" height="16" fill="#d75442"/>
<rect x="278" y="327" width="1" height="64" fill="#737375"/>
<rect x="276" y="341" width="5" height="48" fill="#5b1a13"/>
<rect x="277" y="342" width="3" height="46" fill="#d75442"/>
<rect x="285" y="373" width="1" height="43" fill="#737375"/>
<rect x="283" y="389" width="5" height="22" fill="#5b1a13"/>
<rect x="284" y="390" width="3" height="20" fill="#d75442"/>
<rect x="292" y="372" width="1" height="39" fill="#737375"/>
<rect x="290" y="397" width="5" height="14" fill="#225437"/>
<rect x="291" y="398" width="3" height="12" fill="#6ba583"/>
<rect x="299" y="365" width="1" height="38" fill="#737375"/>
<rect x="297" y="394" width="5" height="8" fill="#225437"/>
<rect x="298" y="395" width="3" height="6" fill="#6ba583"/>
<rect x="306" y="388" width="1" height="40" fill="#737375"/>
<rect x="304" y="395" width="5" height="29" fill="#5b1a13"/>
<rect x="305" y="396" width="3" height="27" fill="#d75442"/>
<rect x="313" y="362" width="1" height="93" fill="#737375"/>
<rect x="311" y="398" width="5" height="29" fill="#225437"/>
<rect x="312" y="399" width="3" height="27" fill="#6ba583"/>
<rect x="320" y="341" width="1" height="56" fill="#737375"/>
<rect x="318" y="347" width="5" height="50" fill="#225437"/>
<rect x="319" y="348" width="3" height="48" fill="#6ba583"/>
<rect x="327" y="337" width="1" height="32" fill="#737375"/>
<rect x="325" y="343" width="5" height="6" fill="#225437"/>
<rect x="326" y="344" width="3" height="4" fill="#6ba583"/>
<rect x="334" y="320" width="1" height="31" fill="#737375"/>
<rect x="332" y="339" width="5" height="3" fill="#225437"/>
<rect x="333" y="340" width="3" height="1" fill="#6ba583"/>
<rect x="341" y="305" width="1" height="57" fill="#737375"/>
<rect x="339" y="317" width="5" height="25" fill="#225437"/>
<rect x="340" y="318" width="3" height="23" fill="#6ba583"/>
<rect x="348" y="304" width="1" height="34" fill="#737375"/>
<rect x="346" y="317" width="5" height="21" fill="#5b1a13"/>
<rect x="347" y="318" width="3" height="19" fill="#d75442"/>
<rect x="355" y="320" width="1" height="58" fill="#737375"/>
<rect x="353" y="335" width="5" height="43" fill="#5b1a13"/>
<rect x="354" y="336" width="3" height="41" fill="#d75442"/>
<rect x="362" y="352" width="1" height="32" fill="#737375"/>
<rect x="360" y="371" width="5" height="6" fill="#225437"/>
<rect x="361" y="372" width="3" height="4" fill="#6ba583"/>
<rect x="368" y="362" width="1" height="28" fill="#737375"/>
<rect x="366" y="371" width="5" height="17" fill="#5b1a13"/>
<rect x="367" y="372" width="3" height="15" fill="#d75442"/>
<rect x="375" y="348" width="1" height="67" fill="#737375"/>
<rect x="373" y="388" width="5" height="20" fill="#5b1a13"/>
<rect x="374" y="389" width="3" height="18" fill="#d75442"/>
<rect x="382" y="346" width="1" height="63" fill="#737375"/>
<rect x="380" y="351" width="5" height="57" fill="#225437"/>
<rect x="381" y="352" width="3" height="55" fill="#6ba583"/>
<rect x="389" y="316" width="1" height="37" fill="#737375"/>
<rect x="387" y="350" width="5" height="3" fill="#5b1a13"/>
<rect x="388" y="351" width="3" height="1" fill="#d75442"/>
<rect x="396" y="327" width="1" height="31" fill="#737375"/>
<rect x="394" y="340" width="5" height="10" fill="#225437"/>
<rect x="395" y="341" width="3" height="8" fill="#6ba583"/>
<rect x="403" y="326" width="1" height="45" fill="#737375"/>
<rect x="401" y="330" width="5" height="10" fill="#225437"/>
<rect x="402" y="331" width="3" height="8" fill="#6ba583"/>
<rect x="410" y="300" width="1" height="56" fill="#737375"/>
<rect x="408" y="305" width="5" height="28" fill="#225437"/>
<rect x="409" y="306" width="3" height="26" fill="#6ba583"/>
<rect x="417" y="279" width="1" height="52" fill="#737375"/>
<rect x="415" y="308" width="5" height="23" fill="#5b1a13"/>
<rect x="416" y="309" width="3" height="21" fill="#d75442"/>
<rect x="424" y="297" width="1" height="56" fill="#737375"/>
<rect x="422" y="331" width="5" height="22" fill="#5b1a13"/>
<rect x="423" y="332" width="3" height="20" fill="#d75442"/>
<rect x="431" y="298" width="1" height="58" fill="#737375"/>
<rect x="429" y="307" width="5" height="46" fill="#225437"/>
<rect x="430" y="308" width="3" height="44" fill="#6ba583"/>
<rect x="438" y="274" width="1" height="45" fill="#737375"/>
<rect x="436" y="282" width="5" height="26" fill="#225437"/>
<rect x="437" y="283" width="3" height="24" fill="#6ba583"/>
<rect x="445" y="271" width="1" height="28" fill="#737375"/>
<rect x="443" y="282" width="5" height="17" fill="#5b1a13"/>
<rect x="444" y="283" width="3" height="15" fill="#d75442"/>
<rect x="452" y="242" width="1" height="57" fill="#737375"/>
<rect x="450" y="271" width="5" height="28" fill="#225437"/>
<rect x="451" y="272" width="3" height="26" fill="#6ba583"/>
<rect x="459" y="197" width="1" height="86" fill="#737375"/>
<rect x="457" y="235" width="5" height="36" fill="#225437"/>
<rect x="458" y="236" width="3" height="34" fill="#6ba583"/>
<rect x="466" y="190" width="1" height="50" fill="#737375"/>
<rect x="464" y="192" width="5" height="40" fill="#225437"/>
<rect x="465" y="193" width="3" height="38" fill="#6ba583"/>
<rect x="473" y="188" width="1" height="42" fill="#737375"/>
<rect x="471" y="195" width="5" height="32" fill="#5b1a13"/>
<rect x="472" y="196" width="3" height="30" fill="#d75442"/>
<rect x="480" y="182" width="1" height="49" fill="#737375"/>
<rect x="478" y="202" width="5" height="25" fill="#225437"/>
<rect x="479" y="203" width="3" height="23" fill="#6ba583"/>
<rect x="487" y="188" width="1" height="63" fill="#737375"/>
<rect x="485" y="196" width="5" height="55" fill="#5b1a13"/>
<rect x="486" y="197" width="3" height="53" fill="#d75442"/>
<rect x="494" y="240" width="1" height="39" fill="#737375"/>
<rect x="492" y="248" width="5" height="3" fill="#225437"/>
<rect x="493" y="249" width="3" height="1" fill="#6ba583"/>
<rect x="501" y="215" width="1" height="49" fill="#737375"/>
<rect x="499" y="232" width="5" height="16" fill="#225437"/>
<rect x="500" y="233" width="3" height="14" fill="#6ba583"/>
<rect x="508" y="222" width="1" height="28" fill="#737375"/>
<rect x="506" y="232" width="5" height="1" fill="#225437"/>
<rect x="515" y="201" width="1" height="41" fill="#737375"/>
<rect x="513" y="231" width="5" height="7" fill="#5b1a13"/>
<rect x="514" y="232" width="3" height="5" fill="#d75442"/>
<rect x="522" y="213" width="1" height="54" fill="#737375"/>
<rect x="520" y="236" width="5" height="13" fill="#5b1a13"/>
<rect x="521" y="237" width="3" height="11" fill="#d75442"/>
<rect x="529" y="223" width="1" height="35" fill="#737375"/>
<rect x="527" y="248" width="5" height="6" fill="#5b1a13"/>
<rect x="528" y="249" width="3" height="4" fill="#d75442"/>
<rect x="536" y="237" width="1" height="29" fill="#737375"/>
<rect x="534" y="255" width="5" height="1" fill="#5b1a13"/>
<rect x="543" y="244" width="1" height="40" fill="#737375"/>
<rect x="541" y="247" width="5" height="32" fill="#5b1a13"/>
<rect x="542" y="248" width="3" height="30" fill="#d75442"/>
<rect x="550" y="247" width="1" height="33" fill="#737375"/>
<rect x="548" y="279" width="5" height="1" fill="#5b1a13"/>
<rect x="557" y="263" width="1" height="34" fill="#737375"/>
<rect x="555" y="283" width="5" height="7" fill="#5b1a13"/>
<rect x="556" y="284" width="3" height="5" fill="#d75442"/>
<rect x="564" y="252" width="1" height="38" fill="#737375"/>
<rect x="562" y="260" width="5" height="27" fill="#225437"/>
<rect x="563" y="261" width="3" height="25" fill="#6ba583"/>
<rect x="571" y="235" width="1" height="39" fill="#737375"/>
<rect x="569" y="250" width="5" height="14" fill="#225437"/>
<rect x="570" y="251" width="3" height="12" fill="#6ba583"/>
<rect x="578" y="226" width="1" height="40" fill="#737375"/>
<rect x="576" y="251" width="5" height="15" fill="#5b1a13"/>
<rect x="577" y="252" width="3" height="13" fill="#d75442"/>
<rect x="585" y="202" width="1" height="63" fill="#737375"/>
<rect x="583" y="216" width="5" height="47" fill="#225437"/>
<rect x="584" y="217" width="3" height="45" fill="#6ba583"/>
<rect x="592" y="205" width="1" height="35" fill="#737375"/>
<rect x="590" y="219" width="5" height="5" fill="#5b1a13"/>
<rect x="591" y="220" width="3" height="3" fill="#d75442"/>
<rect x="599" y="167" width="1" height="55" fill="#737375"/>
<rect x="597" y="176" width="5" height="46" fill="#225437"/>
<rect x="598" y="177" width="3" height="44" fill="#6ba583"/>
<rect x="606" y="138" width="1" height="43" fill="#737375"/>
<rect x="604" y="175" width="5" height="4" fill="#5b1a13"/>
<rect x="605" y="176" width="3" height="2" fill="#d75442"/>
<rect x="613" y="157" width="1" height="35" fill="#737375"/>
<rect x="611" y="177" width="5" height="1" fill="#225437"/>
<rect x="620" y="173" width="1" height="39" fill="#737375"/>
<rect x="618" y="178" width="5" height="3" fill="#5b1a13"/>
<rect x="619" y="179" width="3" height="1" fill="#d75442"/>
<rect x="627" y="155" width="1" height="29" fill="#737375"/>
<rect x="625" y="160" width="5" height="20" fill="#225437"/>
<rect x="626" y="161" width="3" height="18" fill="#6ba583"/>
<rect x="634" y="146" width="1" height="55" fill="#737375"/>
<rect x="632" y="161" width="5" height="22" fill="#5b1a13"/>
<rect x="633" y="162" width="3" height="20" fill="#d75442"/>
<rect x="641" y="156" width="1" height="39" fill="#737375"/>
<rect x="639" y="172" width="5" height="11" fill="#225437"/>
<rect x="640" y="173" width="3" height="9" fill="#6ba583"/>
<rect x="648" y="138" width="1" height="43" fill="#737375"/>
<rect x="646" y="158" width="5" height="23" fill="#225437"/>
<rect x="647" y="159" width="3" height="21" fill="#6ba583"/>
<rect x="655" y="121" width="1" height="67" fill="#737375"/>
<rect x="653" y="159" width="5" height="29" fill="#5b1a13"/>
<rect x="654" y="160" width="3" height="27" fill="#d75442"/>
<rect x="662" y="174" width="1" height="38" fill="#737375"/>
<rect x="660" y="188" width="5" height="9" fill="#5b1a13"/>
<rect x="661" y="189" width="3" height="7" fill="#d75442"/>
<rect x="669" y="144" width="1" height="59" fill="#737375"/>
<rect x="667" y="187" width="5" height="11" fill="#225437"/>
<rect x="668" y="188" width="3" height="9" fill="#6ba583"/>
<rect x="676" y="163" width="1" height="72" fill="#737375"/>
<rect x="674" y="188" width="5" height="40" fill="#5b1a13"/>
<rect x="675" y="189" width="3" height="38" fill="#d75442"/>
<rect x="683" y="207" width="1" height="46" fill="#737375"/>
<rect x="681" y="216" width="5" height="12" fill="#225437"/>
<rect x="682" y="217" width="3" height="10" fill="#6ba583"/>
<rect x="690" y="185" width="1" height="34" fill="#737375"/>
<rect x="688" y="194" width="5" height="22" fill="#225437"/>
<rect x="689" y="195" width="3" height="20" fill="#6ba583"/>
<rect x="697" y="168" width="1" height="27" fill="#737375"/>
<rect x="695" y="169" width="5" height="24" fill="#225437"/>
<rect x="696" y="170" width="3" height="22" fill="#6ba583"/>
<rect x="704" y="152" width="1" height="47" fill="#737375"/>
<rect x="702" y="159" width="5" height="12" fill="#225437"/>
<rect x="703" y="160" width="3" height="10" fill="#6ba583"/>
<rect x="711" y="119" width="1" height="50" fill="#737375"/>
<rect x="709" y="143" width="5" height="13" fill="#225437"/>
<rect x="710" y="144" width="3" height="11" fill="#6ba583"/>
<rect x="718" y="134" width="1" height="45" fill="#737375"/>
<rect x="716" y="140" width="5" height="35" fill="#5b1a13"/>
<rect x="717" y="141" width="3" height="33" fill="#d75442"/>
<rect x="725" y="151" width="1" height="53" fill="#737375"/>
<rect x="723" y="174" width="5" height="18" fill="#5b1a13"/>
<rect x="724" y="175" width="3" height="16" fill="#d75442"/>
<rect x="732" y="139" width="1" height="53" fill="#737375"/>
<rect x="730" y="145" width="5" height="47" fill="#225437"/>
<rect x="731" y="146" width="3" height="45" fill="#6ba583"/>
<rect x="739" y="105" width="1" height="45" fill="#737375"/>
<rect x="737" y="138" width="5" height="11" fill="#225437"/>
<rect x="738" y="139" width="3" height="9" fill="#6ba583"/>
<rect x="746" y="109" width="1" height="36" fill="#737375"/>
<rect x="744" y="117" width="5" height="21" fill="#225437"/>
<rect x="745" y="118" width="3" height="19" fill="#6ba583"/>
<rect x="753" y="106" width="1" height="30" fill="#737375"/>
<rect x="751" y="121" width="5" height="9" fill="#5b1a13"/>
<rect x="752" y="122" width="3" height="7" fill="#d75442"/>
<rect x="760" y="123" width="1" height="66" fill="#737375"/>
<rect x="758" y="130" width="5" height="59" fill="#5b1a13"/>
<rect x="759" y="131" width="3" height="57" fill="#d75442"/>
<rect x="767" y="158" width="1" height="42" fill="#737375"/>
<rect x="765" y="171" width="5" height="18" fill="#225437"/>
<rect x="766" y="172" width="3" height="16" fill="#6ba583"/>
<rect x="774" y="159" width="1" height="48" fill="#737375"/>
<rect x="772" y="169" width="5" height="21" fill="#5b1a13"/>
<rect x="773" y="170" width="3" height="19" fill="#d75442"/>
<rect x="781" y="181" width="1" height="45" fill="#737375"/>
<rect x="779" y="189" width="5" height="28" fill="#5b1a13"/>
<rect x="780" y="190" width="3" height="26" fill="#d75442"/>
<rect x="788" y="203" width="1" height="41" fill="#737375"/>
<rect x="786" y="216" width="5" height="12" fill="#5b1a13"/>
<rect x="787" y="217" width="3" height="10" fill="#d75442"/>
<rect x="795" y="211" width="1" height="36" fill="#737375"/>
<rect x="793" y="226" width="5" height="18" fill="#5b1a13"/>
<rect x="794" y="227" width="3" height="16" fill="#d75442"/>
<rect x="802" y="238" width="1" height="33" fill="#737375"/>
<rect x="800" y="244" width="5" height="24" fill="#5b1a13"/>
<rect x="801" y="245" width="3" height="22" fill="#d75442"/>
<rect x="809" y="255" width="1" height="45" fill="#737375"/>
<rect x="807" y="271" width="5" height="18" fill="#5b1a13"/>
<rect x="808" y="272" width="3" height="16" fill="#d75442"/>
<rect x="816" y="273" width="1" height="97" fill="#737375"/>
<rect x="814" y="288" width="5" height="82" fill="#5b1a13"/>
<rect x="815" y="289" width="3" height="80" fill="#d75442"/>
<rect x="823" y="337" width="1" height="36" fill="#737375"/>
<rect x="821" y="348" width="5" height="18" fill="#225437"/>
<rect x="822" y="349" width="3" height="16" fill="#6ba583"/>
<rect x="830" y="333" width="1" height="30" fill="#737375"/>
<rect x="828" y="351" width="5" height="8" fill="#5b1a13"/>
<rect x="829" y="352" width="3" height="6" fill="#d75442"/>
<rect x="837" y="350" width="1" height="27" fill="#737375"/>
<rect x="835" y="356" width="5" height="3" fill="#5b1a13"/>
<rect x="836" y="357" width="3" height="1" fill="#d75442"/>
<rect x="844" y="338" width="1" height="38" fill="#737375"/>
<rect x="842" y="356" width="5" height="4" fill="#225437"/>
<rect x="843" y="357" width="3" height="2" fill="#6ba583"/>
<rect x="851" y="333" width="1" height="31" fill="#737375"/>
<rect x="849" y="350" width="5" height="1" fill="#225437"/>
<rect x="858" y="333" width="1" height="50" fill="#737375"/>
<rect x="856" y="347" width="5" height="7" fill="#5b1a13"/>
<rect x="857" y="348" width="3" height="5" fill="#d75442"/>
<rect x="865" y="307" width="1" height="65" fill="#737375"/>
<rect x="863" y="330" width="5" height="33" fill="#225437"/>
<rect x="864" y="331" width="3" height="31" fill="#6ba583"/>
<rect x="871" y="281" width="1" height="52" fill="#737375"/>
<rect x="869" y="300" width="5" height="28" fill="#225437"/>
<rect x="870" y="301" width="3" height="26" fill="#6ba583"/>
<rect x="878" y="275" width="1" height="59" fill="#737375"/>
<rect x="876" y="299" width="5" height="8" fill="#5b1a13"/>
<rect x="877" y="300" width="3" height="6" fill="#d75442"/>
<rect x="885" y="296" width="1" height="59" fill="#737375"/>
<rect x="883" y="309" width="5" height="22" fill="#5b1a13"/>
<rect x="884" y="310" width="3" height="20" fill="#d75442"/>
<rect x="892" y="259" width="1" height="69" fill="#737375"/>
<rect x="890" y="273" width="5" height="54" fill="#225437"/>
<rect x="891" y="274" width="3" height="52" fill="#6ba583"/>
<rect x="899" y="266" width="1" height="54" fill="#737375"/>
<rect x="897" y="272" width="5" height="19" fill="#5b1a13"/>
<rect x="898" y="273" width="3" height="17" fill="#d75442"/>
<rect x="906" y="231" width="1" height="64" fill="#737375"/>
<rect x="904" y="250" width="5" height="39" fill="#225437"/>
<rect x="905" y="251" width="3" height="37" fill="#6ba583"/>
<rect x="913" y="209" width="1" height="44" fill="#737375"/>
<rect x="911" y="221" width="5" height="28" fill="#225437"/>
<rect x="912" y="222" width="3" height="26" fill="#6ba583"/>
<rect x="920" y="215" width="1" height="38" fill="#737375"/>
<rect x="918" y="223" width="5" height="9" fill="#5b1a13"/>
<rect x="919" y="224" width="3" height="7" fill="#d75442"/>
<rect x="927" y="196" width="1" height="54" fill="#737375"/>
<rect x="925" y="223" width="5" height="3" fill="#5b1a13"/>
<rect x="926" y="224" width="3" height="1" fill="#d75442"/>
<rect x="934" y="208" width="1" height="25" fill="#737375"/>
<rect x="932" y="223" width="5" height="4" fill="#225437"/>
<rect x="933" y="224" width="3" height="2" fill="#6ba583"/>
<rect x="941" y="191" width="1" height="41" fill="#737375"/>
<rect x="939" y="221" width="5" height="4" fill="#225437"/>
<rect x="940" y="222" width="3" height="2" fill="#6ba583"/>
<rect x="948" y="171" width="1" height="58" fill="#737375"/>
<rect x="946" y="208" width="5" height="12" fill="#225437"/>
<rect x="947" y="209" width="3" height="10" fill="#6ba583"/>
<rect x="955" y="189" width="1" height="52" fill="#737375"/>
<rect x="953" y="210" width="5" height="24" fill="#5b1a13"/>
<rect x="954" y="211" width="3" height="22" fill="#d75442"/>
<rect x="962" y="208" width="1" height="23" fill="#737375"/>
<rect x="960" y="217" width="5" height="12" fill="#225437"/>
<rect x="961" y="218" width="3" height="10" fill="#6ba583"/>
<rect x="969" y="212" width="1" height="47" fill="#737375"/>
<rect x="967" y="220" width="5" height="12" fill="#5b1a13"/>
<rect x="968" y="221" width="3" height="10" fill="#d75442"/>
<rect x="976" y="221" width="1" height="75" fill="#737375"/>
<rect x="974" y="232" width="5" height="57" fill="#5b1a13"/>
<rect x="975" y="233" width="3" height="55" fill="#d75442"/>
<rect x="983" y="268" width="1" height="37" fill="#737375"/>
<rect x="981" y="281" width="5" height="10" fill="#225437"/>
<rect x="982" y="282" width="3" height="8" fill="#6ba583"/>
<rect x="990" y="274" width="1" height="45" fill="#737375"/>
<rect x="988" y="279" width="5" height="39" fill="#5b1a13"/>
<rect x="989" y="280" width="3" height="37" fill="#d75442"/>
<rect x="997" y="291" width="1" height="43" fill="#737375"/>
<rect x="995" y="313" width="5" height="21" fill="#5b1a13"/>
<rect x="996" y="314" width="3" height="19" fill="#d75442"/>
<rect x="1004" y="309" width="1" height="26" fill="#737375"/>
<rect x="1002" y="319" width="5" height="15" fill="#225437"/>
<rect x="1003" y="320" width="3" height="13" fill="#6ba583"/>
<rect x="1011" y="292" width="1" height="31" fill="#737375"/>
<rect x="1009" y="305" width="5" height="14" fill="#225437"/>
<rect x="1010" y="306" width="3" height="12" fill="#6ba583"/>
<rect x="1018" y="296" width="1" height="29" fill="#737375"/>
<rect x="1016" y="309" width="5" height="13" fill="#5b1a13"/>
<rect x="1017" y="310" width="3" height="11" fill="#d75442"/>
<rect x="1025" y="310" width="1" height="25" fill="#737375"/>
<rect x="1023" y="322" width="5" height="13" fill="#5b1a13"/>
<rect x="1024" y="323" width="3" height="11" fill="#d75442"/>
<rect x="1032" y="303" width="1" height="33" fill="#737375"/>
<rect x="1030" y="315" width="5" height="21" fill="#225437"/>
<rect x="1031" y="316" width="3" height="19" fill="#6ba583"/>
<rect x="1039" y="292" width="1" height="37" fill="#737375"/>
<rect x="1037" y="311" width="5" height="11" fill="#225437"/>
<rect x="1038" y="312" width="3" height="9" fill="#6ba583"/>
<rect x="1046" y="295" width="1" height="64" fill="#737375"/>
<rect x="1044" y="315" width="5" height="25" fill="#5b1a13"/>
<rect x="1045" y="316" width="3" height="23" fill="#d75442"/>
<rect x="1053" y="329" width="1" height="47" fill="#737375"/>
<rect x="1051" y="342" width="5" height="32" fill="#5b1a13"/>
<rect x="1052" y="343" width="3" height="30" fill="#d75442"/>
<rect x="1060" y="327" width="1" height="48" fill="#737375"/>
<rect x="1058" y="349" width="5" height="26" fill="#225437"/>
<rect x="1059" y="350" width="3" height="24" fill="#6ba583"/>
<rect x="1067" y="340" width="1" height="36" fill="#737375"/>
<rect x="1065" y="345" width="5" height="21" fill="#5b1a13"/>
<rect x="1066" y="346" width="3" height="19" fill="#d75442"/>
<rect x="1074" y="361" width="1" height="25" fill="#737375"/>
<rect x="1072" y="367" width="5" height="10" fill="#5b1a13"/>
<rect x="1073" y="368" width="3" height="8" fill="#d75442"/>
<rect x="1081" y="368" width="1" height="32" fill="#737375"/>
<rect x="1079" y="383" width="5" height="1" fill="#225437"/>
<rect x="1088" y="364" width="1" height="55" fill="#737375"/>
<rect x="1086" y="383" width="5" height="21" fill="#5b1a13"/>
<rect x="1087" y="384" width="3" height="19" fill="#d75442"/>
<rect x="1095" y="385" width="1" height="29" fill="#737375"/>
<rect x="1093" y="392" width="5" height="15" fill="#225437"/>
<rect x="1094" y="393" width="3" height="13" fill="#6ba583"/>
<rect x="1102" y="383" width="1" height="46" fill="#737375"/>
<rect x="1100" y="390" width="5" height="29" fill="#5b1a13"/>
<rect x="1101" y="391" width="3" height="27" fill="#d75442"/>
<rect x="1109" y="359" width="1" height="65" fill="#737375"/>
<rect x="1107" y="401" width="5" height="20" fill="#225437"/>
<rect x="1108" y="402" width="3" height="18" fill="#6ba583"/>
<rect x="1116" y="385" width="1" height="33" fill="#737375"/>
<rect x="1114" y="396" width="5" height="22" fill="#5b1a13"/>
<rect x="1115" y="397" width="3" height="20" fill="#d75442"/>
<rect x="1123" y="371" width="1" height="49" fill="#737375"/>
<rect x="1121" y="411" width="5" height="8" fill="#225437"/>
<rect x="1122" y="412" width="3" height="6" fill="#6ba583"/>
<rect x="1130" y="385" width="1" height="35" fill="#737375"/>
<rect x="1128" y="397" width="5" height="12" fill="#225437"/>
<rect x="1129" y="398" width="3" height="10" fill="#6ba583"/>
<rect x="1137" y="354" width="1" height="54" fill="#737375"/>
<rect x="1135" y="363" width="5" height="31" fill="#225437"/>
<rect x="1136" y="364" width="3" height="29" fill="#6ba583"/>
<rect x="1144" y="353" width="1" height="50" fill="#737375"/>
<rect x="1142" y="360" width="5" height="39" fill="#5b1a13"/>
<rect x="1143" y="361" width="3" height="37" fill="#d75442"/>
<rect x="1151" y="395" width="1" height="30" fill="#737375"/>
<rect x="1149" y="407" width="5" height="3" fill="#5b1a13"/>
<rect x="1150" y="408" width="3" height="1" fill="#d75442"/>
<rect x="1158" y="389" width="1" height="20" fill="#737375"/>
<rect x="1156" y="399" width="5" height="10" fill="#225437"/>
<rect x="1157" y="400" width="3" height="8" fill="#6ba583"/>
<rect x="1165" y="386" width="1" height="18" fill="#737375"/>
<rect x="1163" y="397" width="5" height="4" fill="#225437"/>
<rect x="1164" y="398" width="3" height="2" fill="#6ba583"/>
<rect x="1172" y="387" width="1" height="22" fill="#737375"/>
<rect x="1170" y="396" width="5" height="13" fill="#5b1a13"/>
<rect x="1171" y="397" width="3" height="11" fill="#d75442"/>
<rect x="1179" y="401" width="1" height="45" fill="#737375"/>
<rect x="1177" y="413" width="5" height="30" fill="#5b1a13"/>
<rect x="1178" y="414" width="3" height="28" fill="#d75442"/>
<rect x="1186" y="384" width="1" height="64" fill="#737375"/>
<rect x="1184" y="402" width="5" height="41" fill="#225437"/>
<rect x="1185" y="403" width="3" height="39" fill="#6ba583"/>
<rect x="1193" y="356" width="1" height="45" fill="#737375"/>
<rect x="1191" y="387" width="5" height="11" fill="#225437"/>
<rect x="1192" y="388" width="3" height="9" fill="#6ba583"/>
<rect x="1200" y="363" width="1" height="34" fill="#737375"/>
<rect x="1198" y="380" width="5" height="4" fill="#225437"/>
<rect x="1199" y="381" width="3" height="2" fill="#6ba583"/>
<rect x="1207" y="369" width="1" height="29" fill="#737375"/>
<rect x="1205" y="376" width="5" height="2" fill="#225437"/>
<rect x="1214" y="346" width="1" height="41" fill="#737375"/>
<rect x="1212" y="372" width="5" height="4" fill="#225437"/>
<rect x="1213" y="373" width="3" height="2" fill="#6ba583"/>
<rect x="1221" y="354" width="1" height="18" fill="#737375"/>
<rect x="1219" y="368" width="5" height="3" fill="#225437"/>
<rect x="1220" y="369" width="3" height="1" fill="#6ba583"/>
<rect x="1228" y="350" width="1" height="40" fill="#737375"/>
<rect x="1226" y="368" width="5" height="22" fill="#5b1a13"/>
<rect x="1227" y="369" width="3" height="20" fill="#d75442"/>
<rect x="1235" y="380" width="1" height="30" fill="#737375"/>
<rect x="1233" y="389" width="5" height="14" fill="#5b1a13"/>
<rect x="1234" y="390" width="3" height="12" fill="#d75442"/>
<rect x="1242" y="368" width="1" height="36" fill="#737375"/>
<rect x="1240" y="381" width="5" height="16" fill="#225437"/>
<rect x="1241" y="382" width="3" height="14" fill="#6ba583"/>
<rect x="1249" y="360" width="1" height="25" fill="#737375"/>
<rect x="1247" y="381" width="5" height="4" fill="#5b1a13"/>
<rect x="1248" y="382" width="3" height="2" fill="#d75442"/>
<rect x="1256" y="362" width="1" height="25" fill="#737375"/>
<rect x="1254" y="374" width="5" height="13" fill="#225437"/>
<rect x="1255" y="375" width="3" height="11" fill="#6ba583"/>
<rect x="1263" y="356" width="1" height="24" fill="#737375"/>
<rect x="1261" y="373" width="5" height="2" fill="#225437"/>
<rect x="1270" y="349" width="1" height="27" fill="#737375"/>
<rect x="1268" y="368" width="5" height="7" fill="#225437"/>
<rect x="1269" y="369" width="3" height="5" fill="#6ba583"/>
<rect x="1277" y="357" width="1" height="24" fill="#737375"/>
<rect x="1275" y="363" width="5" height="17" fill="#5b1a13"/>
<rect x="1276" y="364" width="3" height="15" fill="#d75442"/>
<rect x="1284" y="369" width="1" height="31" fill="#737375"/>
<rect x="1282" y="383" width="5" height="7" fill="#5b1a13"/>
<rect x="1283" y="384" width="3" height="5" fill="#d75442"/>
<rect x="1291" y="365" width="1" height="29" fill="#737375"/>
<rect x="1289" y="375" width="5" height="19" fill="#225437"/>
<rect x="1290" y="376" width="3" height="17" fill="#6ba583"/>
<rect x="1298" y="365" width="1" height="50" fill="#737375"/>
<rect x="1296" y="372" width="5" height="20" fill="#5b1a13"/>
<rect x="1297" y="373" width="3" height="18" fill="#d75442"/>
<rect x="1305" y="384" width="1" height="58" fill="#737375"/>
<rect x="1303" y="386" width="5" height="56" fill="#5b1a13"/>
<rect x="1304" y="387" width="3" height="54" fill="#d75442"/>
<rect x="1312" y="401" width="1" height="42" fill="#737375"/>
<rect x="1310" y="411" width="5" height="29" fill="#225437"/>
<rect x="1311" y="412" width="3" height="27" fill="#6ba583"/>
<rect x="1319" y="376" width="1" height="37" fill="#737375"/>
<rect x="1317" y="396" width="5" height="16" fill="#225437"/>
<rect x="1318" y="397" width="3" height="14" fill="#6ba583"/>
<rect x="1326" y="370" width="1" height="27" fill="#737375"/>
<rect x="1324" y="377" width="5" height="20" fill="#225437"/>
<rect x="1325" y="378" width="3" height="18" fill="#6ba583"/>
<rect x="1333" y="373" width="1" height="31" fill="#737375"/>
<rect x="1331" y="378" width="5" height="26" fill="#5b1a13"/>
<rect x="1332" y="379" width="3" height="24" fill="#d75442"/>
<rect x="1340" y="385" width="1" height="19" fill="#737375"/>
<rect x="1338" y="387" width="5" height="17" fill="#225437"/>
<rect x="1339" y="388" width="3" height="15" fill="#6ba583"/>
</g>
<line x1="2" y1="387.5" x2="1459" y2="387.5" stroke="#6ba583" stroke-width="1" stroke-dasharray="1 2" shape-rendering="crispEdges"/>
<g shape-rendering="crispEdges">
<rect x="1459" y="3" width="1" height="829" fill="#3c3c3c"/>
<rect x="2" y="804" width="1517" height="1" fill="#3c3c3c"/>
</g>
<text x="1467" y="65.7" font-family="Liberation Sans, Arial, sans-serif" font-size="12" font-weight="normal" fill="#6a6a6a" text-anchor="start" textLength="42" lengthAdjust="spacing">0.88000</text>
<text x="1467" y="129.7" font-family="Liberation Sans, Arial, sans-serif" font-size="12" font-weight="normal" fill="#6a6a6a" text-anchor="start" textLength="42" lengthAdjust="spacing">0.87500</text>
<text x="1467" y="193.7" font-family="Liberation Sans, Arial, sans-serif" font-size="12" font-weight="normal" fill="#6a6a6a" text-anchor="start" textLength="42" lengthAdjust="spacing">0.87000</text>
<text x="1467" y="257.7" font-family="Liberation Sans, Arial, sans-serif" font-size="12" font-weight="normal" fill="#6a6a6a" text-anchor="start" textLength="42" lengthAdjust="spacing">0.86500</text>
<text x="1467" y="321.7" font-family="Liberation Sans, Arial, sans-serif" font-size="12" font-weight="normal" fill="#6a6a6a" text-anchor="start" textLength="42" lengthAdjust="spacing">0.86000</text>
<text x="1467" y="385.7" font-family="Liberation Sans, Arial, sans-serif" font-size="12" font-weight="normal" fill="#6a6a6a" text-anchor="start" textLength="42" lengthAdjust="spacing">0.85500</text>
<text x="1467" y="449.7" font-family="Liberation Sans, Arial, sans-serif" font-size="12" font-weight="normal" fill="#6a6a6a" text-anchor="start" textLength="42" lengthAdjust="spacing">0.85000</text>
<text x="1467" y="513.7" font-family="Liberation Sans, Arial, sans-serif" font-size="12" font-weight="normal" fill="#6a6a6a" text-anchor="start" textLength="42" lengthAdjust="spacing">0.84500</text>
<text x="1467" y="577.7" font-family="Liberation Sans, Arial, sans-serif" font-size="12" font-weight="normal" fill="#6a6a6a" text-anchor="start" textLength="42" lengthAdjust="spacing">0.84000</text>
<text x="1467" y="641.7" font-family="Liberation Sans, Arial, sans-serif" font-size="12" font-weight="normal" fill="#6a6a6a" text-anchor="start" textLength="42" lengthAdjust="spacing">0.83500</text>
<text x="1467" y="704.7" font-family="Liberation Sans, Arial, sans-serif" font-size="12" font-weight="normal" fill="#6a6a6a" text-anchor="start" textLength="42" lengthAdjust="spacing">0.00400</text>
<clipPath id="cc"><rect x="1460" y="729" width="59" height="75"/></clipPath>
<g clip-path="url(#cc)">
<text x="1467" y="733.5" font-family="Liberation Sans, Arial, sans-serif" font-size="12" font-weight="normal" fill="#6a6a6a" text-anchor="start" textLength="38" lengthAdjust="spacing">250.00</text>
<text x="1467" y="770.5" font-family="Liberation Sans, Arial, sans-serif" font-size="12" font-weight="normal" fill="#6a6a6a" text-anchor="start" textLength="25" lengthAdjust="spacing">0.00</text>
<text x="1464" y="806.5" font-family="Liberation Sans, Arial, sans-serif" font-size="12" font-weight="normal" fill="#6a6a6a" text-anchor="start" textLength="46" lengthAdjust="spacing">−250.00</text>
</g>
<path d="M1459 98 H1513 a2 2 0 0 1 2 2 V113 a2 2 0 0 1 -2 2 H1459 Z" fill="#000"/>
<text x="1467" y="110.7" font-family="Liberation Sans, Arial, sans-serif" font-size="12" font-weight="bold" fill="#fff" text-anchor="start" textLength="42" lengthAdjust="spacing">0.87659</text>
<path d="M1459 163 H1513 a2 2 0 0 1 2 2 V178 a2 2 0 0 1 -2 2 H1459 Z" fill="#000"/>
<text x="1467" y="175.7" font-family="Liberation Sans, Arial, sans-serif" font-size="12" font-weight="bold" fill="#fff" text-anchor="start" textLength="42" lengthAdjust="spacing">0.87149</text>
<path d="M1459 180 H1513 a2 2 0 0 1 2 2 V195 a2 2 0 0 1 -2 2 H1459 Z" fill="#000"/>
<text x="1467" y="192.7" font-family="Liberation Sans, Arial, sans-serif" font-size="12" font-weight="bold" fill="#fff" text-anchor="start" textLength="42" lengthAdjust="spacing">0.87013</text>
<path d="M1459 375 H1513 a2 2 0 0 1 2 2 V390 a2 2 0 0 1 -2 2 H1459 Z" fill="#000"/>
<text x="1467" y="387.7" font-family="Liberation Sans, Arial, sans-serif" font-size="12" font-weight="bold" fill="#fff" text-anchor="start" textLength="42" lengthAdjust="spacing">0.85493</text>
<path d="M1459 434 H1513 a2 2 0 0 1 2 2 V449 a2 2 0 0 1 -2 2 H1459 Z" fill="#000"/>
<text x="1467" y="446.7" font-family="Liberation Sans, Arial, sans-serif" font-size="12" font-weight="bold" fill="#fff" text-anchor="start" textLength="42" lengthAdjust="spacing">0.85035</text>
<path d="M1459 451 H1513 a2 2 0 0 1 2 2 V466 a2 2 0 0 1 -2 2 H1459 Z" fill="#000"/>
<text x="1467" y="463.7" font-family="Liberation Sans, Arial, sans-serif" font-size="12" font-weight="bold" fill="#fff" text-anchor="start" textLength="42" lengthAdjust="spacing">0.84934</text>
<path d="M1459 643 H1513 a2 2 0 0 1 2 2 V658 a2 2 0 0 1 -2 2 H1459 Z" fill="#000"/>
<text x="1467" y="655.7" font-family="Liberation Sans, Arial, sans-serif" font-size="12" font-weight="bold" fill="#fff" text-anchor="start" textLength="42" lengthAdjust="spacing">0.83402</text>
<text x="54.5" y="822" font-family="Liberation Sans, Arial, sans-serif" font-size="12" font-weight="normal" fill="#555" text-anchor="middle">Jul</text>
<text x="201.5" y="822" font-family="Liberation Sans, Arial, sans-serif" font-size="12" font-weight="normal" fill="#555" text-anchor="middle">Aug</text>
<text x="362.5" y="822" font-family="Liberation Sans, Arial, sans-serif" font-size="12" font-weight="normal" fill="#555" text-anchor="middle">Sep</text>
<text x="508.5" y="822" font-family="Liberation Sans, Arial, sans-serif" font-size="12" font-weight="normal" fill="#555" text-anchor="middle">Oct</text>
<text x="662.5" y="822" font-family="Liberation Sans, Arial, sans-serif" font-size="12" font-weight="normal" fill="#555" text-anchor="middle">Nov</text>
<text x="816.5" y="822" font-family="Liberation Sans, Arial, sans-serif" font-size="12" font-weight="normal" fill="#555" text-anchor="middle">Dec</text>
<text x="962.5" y="822" font-family="Liberation Sans, Arial, sans-serif" font-size="12" font-weight="bold" fill="#555" text-anchor="middle">2024</text>
<text x="1123.5" y="822" font-family="Liberation Sans, Arial, sans-serif" font-size="12" font-weight="normal" fill="#555" text-anchor="middle">Feb</text>
<text x="1270.5" y="822" font-family="Liberation Sans, Arial, sans-serif" font-size="12" font-weight="normal" fill="#555" text-anchor="middle">Mar</text>
<text x="1416.5" y="822" font-family="Liberation Sans, Arial, sans-serif" font-size="12" font-weight="normal" fill="#555" text-anchor="middle">Apr</text>
<g>
<clipPath id="uk"><circle cx="23.3" cy="15.3" r="5.8"/></clipPath>
<g clip-path="url(#uk)"><rect x="17" y="9" width="13" height="13" fill="#3468cc"/><path d="M17.5 9.5 L29.1 21.1 M29.1 9.5 L17.5 21.1" stroke="#fff" stroke-width="2.4"/><path d="M17.5 9.5 L29.1 21.1 M29.1 9.5 L17.5 21.1" stroke="#ee5a6a" stroke-width="0.9"/><path d="M23.3 9 V22 M17 15.3 H30" stroke="#fff" stroke-width="3.6"/><path d="M23.3 9 V22 M17 15.3 H30" stroke="#ee5a6a" stroke-width="2"/></g>
<circle cx="16.3" cy="21.8" r="7" fill="#fff"/>
<circle cx="16.3" cy="21.8" r="6" fill="#1a5bc4"/>
<circle cx="19.80" cy="21.80" r="0.7" fill="#f5d94a"/>
<circle cx="18.77" cy="24.27" r="0.7" fill="#f5d94a"/>
<circle cx="16.30" cy="25.30" r="0.7" fill="#f5d94a"/>
<circle cx="13.83" cy="24.27" r="0.7" fill="#f5d94a"/>
<circle cx="12.80" cy="21.80" r="0.7" fill="#f5d94a"/>
<circle cx="13.83" cy="19.33" r="0.7" fill="#f5d94a"/>
<circle cx="16.30" cy="18.30" r="0.7" fill="#f5d94a"/>
<circle cx="18.77" cy="19.33" r="0.7" fill="#f5d94a"/>
</g>
<text x="33.6" y="25" font-family="Liberation Sans, Arial, sans-serif" font-size="15.5" font-weight="normal" fill="#505050" text-anchor="start" textLength="207.5" lengthAdjust="spacing">Euro / British Pound · 1D · ICE</text>
<circle cx="265.9" cy="19.1" r="8.7" fill="#d9efea"/>
<circle cx="265.9" cy="19.1" r="3.7" fill="#089981"/>
<text x="291.7" y="23.8" font-family="Liberation Sans, Arial, sans-serif" font-size="12" fill="#2a6541" textLength="54.4" lengthAdjust="spacing"><tspan fill="#5c6b62">O</tspan>0.85339</text>
<text x="353.6" y="23.8" font-family="Liberation Sans, Arial, sans-serif" font-size="12" fill="#2a6541" textLength="54" lengthAdjust="spacing"><tspan fill="#5c6b62">H</tspan>0.85479</text>
<text x="414.8" y="23.8" font-family="Liberation Sans, Arial, sans-serif" font-size="12" fill="#2a6541" textLength="52.3" lengthAdjust="spacing"><tspan fill="#5c6b62">L</tspan>0.85339</text>
<text x="473.9" y="23.8" font-family="Liberation Sans, Arial, sans-serif" font-size="12" fill="#2a6541" textLength="53.9" lengthAdjust="spacing"><tspan fill="#5c6b62">C</tspan>0.85460</text>
<text x="534.6" y="23.8" font-family="Liberation Sans, Arial, sans-serif" font-size="12" font-weight="normal" fill="#2a6541" text-anchor="start" textLength="50.3" lengthAdjust="spacing">+0.00126</text>
<text x="591.5" y="23.8" font-family="Liberation Sans, Arial, sans-serif" font-size="12" font-weight="normal" fill="#2a6541" text-anchor="start" textLength="47.6" lengthAdjust="spacing">(+0.15%)</text>
<rect x="8" y="33" width="158" height="29" fill="#fff"/>
<rect x="10.5" y="36" width="60" height="22.5" rx="4" fill="#fff" stroke="#f23645" stroke-width="1"/>
<text x="18" y="52" font-family="Liberation Sans, Arial, sans-serif" font-size="13" fill="#f23645">0.8546<tspan font-size="9.5" dy="-4">3</tspan></text>
<text x="79" y="51.5" font-family="Liberation Sans, Arial, sans-serif" font-size="11.5" font-weight="normal" fill="#222" text-anchor="start">0.4</text>
<rect x="102.5" y="36" width="60" height="22.5" rx="4" fill="#fff" stroke="#2962ff" stroke-width="1"/>
<text x="110.5" y="52" font-family="Liberation Sans, Arial, sans-serif" font-size="13" fill="#2962ff">0.8546<tspan font-size="9.5" dy="-4">7</tspan></text>
<text x="11.2" y="80" font-family="Liberation Sans, Arial, sans-serif" font-size="12" font-weight="normal" fill="#555" text-anchor="start" textLength="383" lengthAdjust="spacing">MA Ribbon SMA close 20 SMA close 50 SMA close 100 SMA close 200</text>
<text x="402.2" y="80" font-family="Liberation Sans, Arial, sans-serif" font-size="12" font-weight="normal" fill="#f23645" text-anchor="start" textLength="44.5" lengthAdjust="spacing">0.85462</text>
<text x="454.1" y="80" font-family="Liberation Sans, Arial, sans-serif" font-size="12" font-weight="normal" fill="#2962ff" text-anchor="start" textLength="45" lengthAdjust="spacing">0.85518</text>
<text x="507" y="80" font-family="Liberation Sans, Arial, sans-serif" font-size="11" font-weight="normal" fill="#222" text-anchor="start">∅</text>
<text x="519.8" y="80" font-family="Liberation Sans, Arial, sans-serif" font-size="12" font-weight="normal" fill="#222" text-anchor="start" textLength="44.5" lengthAdjust="spacing">0.86063</text>
<rect x="11.5" y="89.5" width="28" height="20" rx="3.5" fill="#fff" stroke="#d1d4dc" stroke-width="1"/>
<path d="M21.8 102 L25.6 98.2 L29.4 102" fill="none" stroke="#222" stroke-width="1.3"/>
<rect x="24" y="106" width="7" height="1.4" fill="#ccc"/>
<rect x="1463.5" y="7.5" width="51" height="25" rx="4" fill="#fff" stroke="#e0e3eb" stroke-width="1"/>
<text x="1467" y="24" font-family="Liberation Sans, Arial, sans-serif" font-size="12" font-weight="normal" fill="#222" text-anchor="start" textLength="22" lengthAdjust="spacing">GBP</text>
<path d="M1505 18.5 L1507.6 21.2 L1510.2 18.5" fill="none" stroke="#222" stroke-width="1.4"/>
<rect x="6" y="691" width="130" height="19" fill="#fff" fill-opacity="0.65"/>
<text x="11" y="705" font-family="Liberation Sans, Arial, sans-serif" font-size="12" font-weight="normal" fill="#555" text-anchor="start" textLength="67" lengthAdjust="spacing">ATR 14 RMA</text>
<text x="86.4" y="705" font-family="Liberation Sans, Arial, sans-serif" font-size="12" font-weight="normal" fill="#b22222" text-anchor="start" textLength="45" lengthAdjust="spacing">0.00267</text>
<rect x="6" y="737" width="160" height="19" fill="#fff" fill-opacity="0.65"/>
<text x="11" y="749" font-family="Liberation Sans, Arial, sans-serif" font-size="12" font-weight="normal" fill="#555" text-anchor="start" textLength="101" lengthAdjust="spacing">CCI 20 hlc3 SMA 5</text>
<text x="121.3" y="749" font-family="Liberation Sans, Arial, sans-serif" font-size="12" font-weight="normal" fill="#2962ff" text-anchor="start" textLength="38.5" lengthAdjust="spacing">−40.13</text>
<rect x="12" y="772" width="34" height="20" fill="#fff" fill-opacity="0.9"/>
<path d="M14 775 H26 V790 H20 V781 H14 Z" fill="#131722"/>
<circle cx="31" cy="778" r="3" fill="#131722"/>
<path d="M37.5 775 H44 L37.8 790 H31.2 Z" fill="#131722"/>
<path d="M1482.2 818.4 L1485.8 812.3 H1492.9 L1496.6 818.4 L1492.9 824.5 H1485.8 Z" fill="none" stroke="#131722" stroke-width="1.25" stroke-linejoin="round"/>
<circle cx="1489.4" cy="818.4" r="1.9" fill="none" stroke="#131722" stroke-width="1.2"/>
<filter id="bl" x="-5%" y="-20%" width="110%" height="140%"><feGaussianBlur stdDeviation="0.9"/></filter>
<g font-family="Liberation Sans, Noto Sans CJK SC, sans-serif">
<g transform="translate(1274 791) skewX(-14)" opacity="0.8">
<text x="2.6" y="2.6" font-size="60" font-weight="900" fill="#333" stroke="#333" stroke-width="1" fill-opacity="0.72" stroke-opacity="0.72" textLength="236" lengthAdjust="spacingAndGlyphs" filter="url(#bl)">海马财经</text>
<text x="0" y="0" font-size="60" font-weight="900" fill="#fff" stroke="#fff" stroke-width="1" stroke-linejoin="round" textLength="236" lengthAdjust="spacingAndGlyphs">海马财经</text>
</g>
<g font-style="italic" opacity="0.62">
<text x="1290.0 1316.8 1345.3 1368.4 1388.3 1418.9 1447.0 1466.9 1492.9" y="830.6" font-size="34" font-weight="bold" fill="#2a63c4">zzrt01.cn</text>
<text x="1288.5 1315.3 1343.8 1366.9 1386.8 1417.4 1445.5 1465.4 1491.4" y="829.4" font-size="34" font-weight="bold" fill="#47a9f8">zzrt01.cn</text>
</g></g>
</svg>
</body></html>
